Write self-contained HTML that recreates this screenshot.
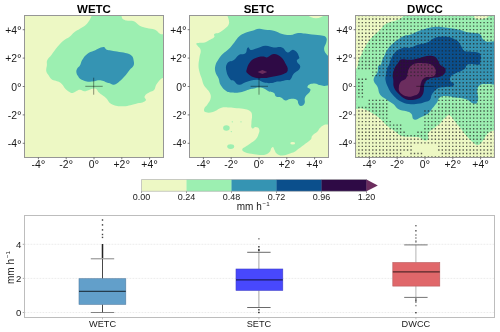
<!DOCTYPE html><html><head><meta charset="utf-8"><style>html,body{margin:0;padding:0;background:#fff;width:500px;height:332px;overflow:hidden;position:relative}</style></head><body><svg width="500" height="332" viewBox="0 0 500 332" style="position:absolute;left:0;top:0;display:block;will-change:transform">
<rect width="500" height="332" fill="#fff"/>
<defs><clipPath id="c0"><rect x="24.5" y="15.5" width="139.0" height="142.0"/></clipPath><clipPath id="c1"><rect x="189.5" y="15.5" width="139.0" height="142.0"/></clipPath><clipPath id="c2"><rect x="355.5" y="15.5" width="139.0" height="142.0"/></clipPath></defs>
<g clip-path="url(#c0)">
<rect x="24.5" y="15.5" width="139.0" height="142.0" fill="#edf8c4"/>
<path d="M92.00,15.00 C90.30,18.69 89.89,20.35 87.20,23.40 C84.69,26.24 83.04,26.58 79.90,28.70 C77.74,30.15 76.64,30.29 74.60,31.90 C72.16,33.84 71.74,35.16 69.30,37.10 C67.26,38.71 66.01,38.65 64.00,40.30 C61.10,42.67 60.14,43.76 57.70,46.60 C54.83,49.95 54.08,51.50 51.40,55.00 C49.67,57.25 48.37,57.71 47.20,60.30 C46.39,62.10 47.06,63.03 46.90,65.00 C46.68,67.65 45.91,68.67 46.30,71.30 C46.57,73.07 47.40,73.52 48.40,75.00 C49.64,76.84 49.85,77.83 51.60,79.20 C53.09,80.36 54.04,80.13 55.80,80.80 C57.56,81.47 58.39,81.42 60.00,82.40 C61.34,83.22 61.69,83.80 62.70,85.00 C63.92,86.45 63.97,87.35 65.30,88.70 C66.86,90.28 67.58,90.79 69.50,91.90 C70.73,92.61 71.29,93.21 72.70,93.00 C74.67,92.71 75.08,91.60 76.90,90.80 C78.15,90.25 78.63,89.73 80.00,89.80 C81.94,89.90 82.46,91.18 84.40,91.20 C86.41,91.22 87.08,90.47 89.00,89.90 C90.90,89.34 91.54,88.75 93.50,88.50 C94.64,88.36 95.28,88.30 96.20,89.00 C97.71,90.14 97.56,91.26 98.90,92.60 C100.24,93.94 101.00,94.16 102.50,95.30 C103.98,96.42 104.69,96.69 106.00,98.00 C108.23,100.23 108.12,102.20 110.90,103.70 C114.90,105.86 116.86,106.30 121.40,106.30 C127.71,106.30 130.06,105.14 136.20,103.70 C140.29,102.74 142.53,103.35 145.70,100.60 C147.08,99.40 143.79,98.03 144.60,96.40 C145.87,93.83 147.52,93.70 149.90,92.10 C151.54,91.00 152.81,91.49 154.10,90.00 C155.64,88.22 154.93,86.79 156.20,84.80 C158.08,81.86 158.86,80.69 161.50,78.40 C163.08,77.03 165.78,78.37 166.00,76.30 C167.79,59.05 168.28,52.20 166.00,35.00 C165.69,32.63 162.56,35.03 160.40,34.00 C157.84,32.78 157.71,30.92 155.10,29.80 C151.79,28.38 150.17,29.05 146.70,28.10 C143.52,27.23 142.20,27.05 139.30,25.50 C136.80,24.16 136.66,22.29 134.00,21.30 C129.81,19.74 127.39,21.80 123.50,19.60 C120.64,17.98 122.52,13.67 119.30,13.00 C108.08,10.65 103.44,12.16 92.00,13.00 C91.16,13.06 92.35,14.24 92.00,15.00Z" fill="#9cefb1"/>
<path d="M94.00,50.80 C91.10,52.05 89.67,52.04 87.20,54.00 C84.51,56.13 83.83,57.40 82.00,60.30 C80.72,62.33 81.10,63.53 79.90,65.60 C79.01,67.15 77.92,67.21 77.10,68.80 C76.40,70.17 76.21,70.87 76.40,72.40 C76.61,74.04 77.18,74.56 78.00,76.00 C78.70,77.23 78.90,77.82 80.00,78.70 C81.28,79.72 81.97,79.83 83.50,80.40 C85.34,81.09 86.04,81.52 88.00,81.70 C90.31,81.91 91.21,81.63 93.50,81.30 C95.00,81.08 95.48,80.48 97.00,80.40 C99.31,80.27 100.23,80.35 102.50,80.80 C104.05,81.11 104.51,81.67 106.00,82.20 C107.24,82.64 107.75,82.69 109.00,83.10 C111.11,83.79 111.81,85.12 114.00,84.80 C116.57,84.43 117.29,83.25 119.30,81.60 C122.20,79.23 123.11,78.10 125.60,75.30 C127.53,73.13 127.95,72.04 129.80,69.80 C131.31,67.96 132.72,67.81 133.60,65.60 C134.43,63.53 133.97,62.50 133.60,60.30 C133.29,58.44 133.23,57.53 132.00,56.10 C130.61,54.48 129.72,54.07 127.70,53.40 C124.30,52.27 122.83,52.53 119.30,51.90 C115.77,51.27 114.44,50.99 110.90,50.40 C109.14,50.11 108.32,50.54 106.70,49.80 C105.08,49.05 105.28,46.86 103.50,47.00 C99.22,47.34 97.95,49.10 94.00,50.80Z" fill="#3594b3"/>
<line x1="85.3" y1="86.3" x2="102.7" y2="86.3" stroke="#000" stroke-opacity="0.5" stroke-width="0.85"/>
<line x1="93.7" y1="77.7" x2="93.7" y2="94.7" stroke="#000" stroke-opacity="0.5" stroke-width="0.85"/>
</g>
<rect x="24.5" y="15.5" width="139.0" height="142.0" fill="none" stroke="#969696" stroke-width="1"/>
<g clip-path="url(#c1)">
<rect x="189.5" y="15.5" width="139.0" height="142.0" fill="#edf8c4"/>
<path d="M229.00,13.00 C224.67,13.58 230.13,19.18 229.00,23.40 C228.27,26.14 226.91,26.79 224.80,28.70 C222.44,30.83 221.34,31.47 218.50,32.90 C216.87,33.72 215.59,32.71 214.30,34.00 C213.38,34.92 215.14,36.10 214.30,37.10 C212.63,39.09 211.27,39.03 209.00,40.30 C207.28,41.26 206.71,41.91 204.80,42.40 C201.35,43.28 199.67,42.09 196.40,43.50 C195.50,43.89 196.86,44.79 197.40,45.60 C198.63,47.45 200.20,47.62 200.60,49.80 C201.16,52.89 199.91,54.09 199.50,57.20 C199.03,60.72 198.50,62.05 198.50,65.60 C198.50,68.32 198.85,69.36 199.50,72.00 C200.16,74.71 200.72,75.65 201.60,78.30 C202.53,81.11 202.54,82.32 203.80,85.00 C204.54,86.57 205.25,86.92 206.30,88.30 C207.68,90.11 208.66,90.53 209.60,92.60 C210.56,94.71 211.12,95.72 210.70,98.00 C210.14,101.01 208.98,101.88 207.40,104.50 C206.24,106.43 204.80,106.63 204.20,108.80 C203.81,110.21 203.94,111.58 205.30,112.10 C208.24,113.23 209.76,112.91 212.80,112.10 C216.74,111.05 217.57,108.88 221.50,107.80 C224.58,106.95 225.91,107.50 229.10,107.60 C232.30,107.71 233.51,107.99 236.70,108.30 C240.36,108.66 241.82,108.37 245.40,109.20 C247.69,109.73 248.73,109.95 250.50,111.50 C251.70,112.56 251.88,113.41 252.00,115.00 C252.27,118.53 251.37,119.86 251.40,123.40 C251.42,125.48 250.50,126.97 252.10,128.30 C253.32,129.31 254.02,126.74 255.60,126.90 C257.31,127.07 258.51,127.39 259.10,129.00 C259.91,131.23 259.15,132.35 258.40,134.60 C257.65,136.85 257.21,137.76 255.60,139.50 C253.61,141.66 252.39,141.99 250.00,143.70 C248.27,144.93 247.51,145.25 245.80,146.50 C244.28,147.61 242.76,147.47 242.30,149.30 C241.94,150.73 243.04,151.54 244.40,152.10 C248.29,153.70 250.03,153.60 254.20,154.20 C258.29,154.78 259.91,155.46 264.00,154.90 C266.61,154.54 267.66,153.88 269.60,152.10 C271.35,150.50 270.22,148.13 272.40,147.20 C273.75,146.62 273.68,148.78 274.50,150.00 C275.45,151.43 275.21,152.49 276.60,153.50 C278.63,154.98 279.69,155.71 282.20,155.60 C286.48,155.41 287.96,154.21 292.00,152.80 C293.86,152.15 294.51,151.71 296.20,150.70 C297.46,149.94 297.83,149.49 299.00,148.60 C301.78,146.47 302.84,145.66 305.60,143.50 C307.88,141.71 309.12,141.40 311.00,139.20 C311.95,138.09 311.15,137.01 312.10,135.90 C313.98,133.70 315.45,133.65 317.50,131.60 C318.68,130.42 318.52,129.48 319.70,128.30 C321.29,126.71 321.97,126.07 324.00,125.10 C326.78,123.77 330.81,125.98 331.00,122.90 C333.88,76.83 333.52,59.09 331.00,13.00 C330.86,10.48 327.39,12.20 325.00,13.00 C324.20,13.27 325.73,14.58 325.00,15.00 C321.53,17.01 320.01,18.20 316.00,18.20 C311.99,18.20 310.47,17.01 307.00,15.00 C306.27,14.58 307.84,13.02 307.00,13.00 C274.25,12.16 261.47,8.67 229.00,13.00Z" fill="#9cefb1"/>
<path d="M259.00,28.70 C256.06,28.93 255.13,29.96 252.30,30.80 C249.20,31.72 247.88,31.66 244.90,32.90 C242.50,33.90 241.54,34.36 239.60,36.10 C237.03,38.41 236.53,39.75 234.30,42.40 C232.07,45.05 231.45,46.25 229.00,48.70 C226.55,51.15 225.13,51.54 222.70,54.00 C220.70,56.02 220.01,56.90 218.50,59.30 C216.93,61.80 216.10,62.74 215.40,65.60 C214.76,68.21 214.76,69.39 215.40,72.00 C216.10,74.86 217.40,75.56 218.50,78.30 C219.60,81.04 219.02,82.51 220.60,85.00 C222.64,88.21 223.72,89.41 226.90,91.50 C228.72,92.70 229.83,92.30 232.00,92.50 C234.84,92.76 235.96,92.93 238.80,92.60 C241.47,92.29 242.43,91.78 245.00,91.00 C247.01,90.39 247.67,89.85 249.70,89.30 C251.39,88.84 252.08,88.91 253.80,88.60 C255.99,88.20 256.78,87.62 259.00,87.60 C261.13,87.58 262.01,87.72 264.00,88.50 C266.28,89.39 266.77,90.50 269.00,91.50 C271.00,92.40 272.22,91.73 274.00,93.00 C275.38,93.98 274.58,95.58 276.00,96.50 C277.80,97.66 279.03,96.67 281.00,97.50 C283.09,98.38 283.26,100.13 285.50,100.50 C287.47,100.83 288.01,99.09 290.00,99.00 C292.97,98.87 294.44,98.49 297.00,100.00 C298.55,100.91 297.50,102.51 298.50,104.00 C299.25,105.12 299.66,106.11 301.00,106.00 C302.80,105.85 303.73,105.13 304.50,103.50 C305.58,101.21 303.97,99.81 305.00,97.50 C306.59,93.93 309.63,93.81 310.50,90.00 C310.93,88.11 306.51,88.16 307.50,86.50 C309.09,83.83 311.22,83.96 314.30,83.60 C316.60,83.33 317.33,84.66 319.60,85.10 C322.09,85.58 323.11,86.30 325.60,85.80 C328.14,85.29 330.50,85.35 331.00,82.80 C332.99,72.62 332.45,68.37 331.00,58.10 C330.71,56.05 328.36,56.74 327.10,55.10 C325.39,52.86 324.28,51.91 324.10,49.10 C323.91,46.10 325.73,45.25 326.30,42.30 C326.66,40.44 327.16,39.49 326.30,37.80 C325.57,36.35 324.58,36.16 323.00,35.80 C318.47,34.75 316.61,35.09 312.00,34.50 C309.05,34.12 307.95,33.82 305.00,33.50 C302.07,33.19 300.93,32.69 298.00,33.00 C294.80,33.33 293.81,34.80 290.60,35.00 C287.05,35.22 285.65,34.86 282.20,34.00 C278.54,33.08 277.46,31.71 273.80,30.80 C270.31,29.93 268.86,30.30 265.30,29.80 C262.64,29.42 261.68,28.49 259.00,28.70Z" fill="#3594b3"/>
<path d="M248.00,47.50 C249.21,46.70 249.05,49.77 250.50,49.90 C253.34,50.15 254.35,49.06 257.10,48.30 C260.61,47.33 261.76,45.98 265.40,45.80 C268.95,45.63 270.16,47.14 273.70,47.50 C277.17,47.86 278.71,46.35 282.00,47.50 C284.98,48.54 284.61,51.76 287.70,52.40 C290.30,52.94 291.06,48.85 293.50,49.90 C297.16,51.48 298.14,53.59 299.30,57.40 C299.81,59.06 296.64,58.97 296.80,60.70 C297.08,63.81 300.95,64.27 300.20,67.30 C299.24,71.16 296.00,70.90 293.50,74.00 C291.76,76.15 292.23,77.82 290.20,79.70 C289.21,80.62 288.33,79.77 287.00,80.00 C284.17,80.49 283.14,80.97 280.30,81.40 C278.93,81.61 278.36,81.24 277.00,81.50 C274.85,81.92 274.19,82.83 272.00,83.00 C268.64,83.26 267.29,83.23 264.00,82.50 C260.95,81.82 260.23,79.75 257.10,79.70 C252.12,79.62 250.31,80.88 245.50,82.20 C242.64,82.99 241.83,85.13 238.90,84.70 C235.97,84.27 235.84,81.93 233.30,80.40 C232.30,79.80 231.31,80.63 230.60,79.70 C228.26,76.64 227.26,75.28 226.50,71.50 C225.81,68.07 225.42,66.15 227.30,63.20 C228.97,60.59 231.38,61.70 233.90,59.90 C236.32,58.17 236.33,56.39 238.90,54.90 C241.38,53.47 243.28,55.01 245.50,53.20 C247.53,51.55 245.82,48.94 248.00,47.50Z" fill="#0b4f8c"/>
<path d="M246.40,70.60 C247.55,66.57 247.86,64.76 250.50,61.50 C252.55,58.96 254.04,58.54 257.10,57.40 C259.72,56.43 260.91,56.60 263.70,56.60 C265.13,56.60 265.62,57.75 267.00,57.40 C270.04,56.64 270.57,54.29 273.70,54.10 C276.66,53.92 277.97,54.77 280.30,56.60 C283.04,58.75 283.67,60.13 285.30,63.20 C286.83,66.09 288.21,67.37 287.70,70.60 C287.35,72.78 285.64,73.05 283.60,73.90 C279.64,75.54 277.90,75.51 273.70,76.40 C269.53,77.28 267.96,77.91 263.70,78.10 C259.53,78.29 257.79,78.51 253.80,77.30 C250.66,76.35 249.64,75.31 247.20,73.10 C246.38,72.36 246.10,71.66 246.40,70.60Z" fill="#2e0a45"/>
<polygon points="257.6,71.9 262.4,69.9 267.2,71.9 262.4,73.9" fill="#6b2d5e"/>
<circle cx="232.3" cy="121.8" r="0.65" fill="#9cefb1"/>
<circle cx="241" cy="121.8" r="0.65" fill="#9cefb1"/>
<circle cx="231.3" cy="131.6" r="0.65" fill="#9cefb1"/>
<ellipse cx="226.4" cy="128.0" rx="3.3" ry="2.8" fill="#9cefb1"/>
<ellipse cx="230.7" cy="146.6" rx="3.5" ry="2.4" fill="#9cefb1"/>
<ellipse cx="292.7" cy="143.3" rx="2.4" ry="1.2" fill="#edf8c4"/>
<line x1="250.60000000000002" y1="86.3" x2="268.0" y2="86.3" stroke="#000" stroke-opacity="0.5" stroke-width="0.85"/>
<line x1="259.0" y1="77.7" x2="259.0" y2="94.7" stroke="#000" stroke-opacity="0.5" stroke-width="0.85"/>
</g>
<rect x="189.5" y="15.5" width="139.0" height="142.0" fill="none" stroke="#969696" stroke-width="1"/>
<g clip-path="url(#c2)">
<rect x="355.5" y="15.5" width="139.0" height="142.0" fill="#edf8c4"/>
<path d="M404.00,13.00 C403.16,13.02 404.51,14.33 404.00,15.00 C402.28,17.24 401.50,18.18 399.00,19.50 C395.94,21.11 394.35,20.62 391.10,21.80 C388.20,22.85 386.92,23.03 384.40,24.80 C382.73,25.97 382.77,27.09 381.40,28.60 C379.90,30.25 379.25,30.81 377.60,32.30 C375.76,33.96 374.85,34.35 373.10,36.10 C371.35,37.85 370.79,38.63 369.30,40.60 C367.93,42.41 367.49,43.16 366.30,45.10 C364.96,47.28 364.44,48.11 363.30,50.40 C362.21,52.57 362.09,53.53 361.00,55.70 C360.48,56.73 359.90,56.92 359.50,58.00 C358.79,59.90 358.97,60.75 358.40,62.70 C357.62,65.38 357.82,66.66 356.30,69.00 C355.42,70.36 353.14,69.39 353.00,71.00 C351.69,86.27 349.42,92.59 353.00,107.50 C353.89,111.20 358.29,107.68 362.00,108.50 C364.64,109.08 365.59,109.58 368.00,110.80 C371.58,112.61 372.88,113.44 376.20,115.70 C378.57,117.31 379.40,118.05 381.50,120.00 C383.61,121.96 384.00,123.14 386.20,125.00 C389.57,127.86 391.10,128.64 394.70,131.20 C397.61,133.26 398.34,134.81 401.70,136.00 C405.20,137.24 406.80,136.49 410.50,136.80 C414.40,137.12 416.01,136.51 419.80,137.50 C422.10,138.10 422.25,140.16 424.60,140.50 C426.27,140.74 427.44,140.21 428.20,138.70 C429.21,136.67 427.00,135.22 428.20,133.30 C430.30,129.94 432.34,129.72 435.40,127.20 C437.30,125.64 438.21,125.28 440.00,123.60 C441.13,122.53 441.25,121.84 442.30,120.70 C444.19,118.65 444.76,117.67 447.00,116.00 C447.95,115.29 448.70,114.57 449.70,115.20 C452.26,116.83 452.46,118.36 454.40,120.70 C457.08,123.95 458.07,125.21 460.70,128.50 C463.32,131.77 464.12,133.17 466.90,136.30 C469.38,139.10 470.27,140.28 473.20,142.60 C474.94,143.97 475.71,145.37 477.90,145.00 C480.46,144.57 480.92,142.97 482.60,141.00 C484.90,138.31 484.89,136.59 487.30,134.00 C488.91,132.27 489.81,131.78 492.00,130.90 C493.97,130.11 496.91,132.22 497.00,130.10 C499.08,80.96 499.85,62.10 497.00,13.00 C496.83,10.15 492.94,12.19 490.20,13.00 C489.39,13.24 490.81,14.43 490.20,15.00 C487.97,17.09 486.95,18.01 484.00,18.80 C480.75,19.67 479.16,19.95 476.00,18.80 C474.23,18.15 474.32,16.74 473.60,15.00 C473.28,14.22 474.44,13.02 473.60,13.00 C444.38,12.16 433.22,12.16 404.00,13.00Z" fill="#9cefb1"/>
<path d="M380.60,65.00 C381.76,63.23 381.30,62.16 382.10,60.20 C382.90,58.24 383.45,57.60 384.40,55.70 C385.68,53.15 385.78,51.95 387.40,49.60 C389.30,46.83 390.24,45.89 392.70,43.60 C395.01,41.46 396.07,40.83 398.70,39.10 C401.25,37.42 402.16,36.60 405.00,35.50 C406.57,34.89 407.39,35.62 409.00,35.10 C412.94,33.84 414.22,32.76 418.10,31.30 C421.83,29.90 423.23,29.27 427.10,28.30 C430.82,27.37 432.27,26.97 436.10,26.80 C439.93,26.63 441.39,27.08 445.20,27.50 C448.28,27.84 449.45,28.07 452.50,28.60 C455.71,29.16 456.94,29.33 460.10,30.10 C463.29,30.88 464.38,31.66 467.60,32.30 C470.71,32.92 471.98,32.54 475.10,33.10 C477.38,33.51 478.58,33.17 480.40,34.60 C482.07,35.92 481.31,37.50 482.70,39.10 C483.88,40.46 484.59,40.87 486.30,41.40 C490.68,42.75 495.85,39.07 497.00,43.50 C501.13,59.39 500.85,66.64 497.00,82.60 C496.02,86.65 491.33,83.55 487.20,84.10 C484.35,84.48 482.85,83.30 480.40,84.80 C478.22,86.14 477.80,87.57 477.40,90.10 C476.80,93.89 478.74,95.42 478.10,99.20 C477.72,101.44 477.37,103.70 475.10,103.70 C470.87,103.70 470.14,100.46 466.10,99.20 C461.80,97.86 459.95,98.31 455.50,97.60 C451.29,96.93 449.76,95.87 445.50,95.90 C442.87,95.92 441.58,96.09 439.50,97.70 C437.70,99.09 438.26,100.61 437.00,102.50 C435.19,105.21 434.23,106.05 432.20,108.60 C430.53,110.71 430.35,111.98 428.20,113.60 C425.28,115.81 423.78,116.09 420.40,117.50 C417.84,118.57 416.66,120.57 414.10,119.50 C411.60,118.46 413.14,115.68 411.30,113.70 C409.77,112.05 408.62,112.07 406.50,111.30 C403.05,110.05 401.32,110.66 398.10,108.90 C395.60,107.53 395.50,105.92 393.30,104.10 C390.90,102.12 389.72,101.72 387.20,99.90 C384.14,97.69 382.27,97.52 380.00,94.50 C378.04,91.89 378.97,90.07 377.60,87.10 C376.35,84.39 374.62,83.97 373.80,81.10 C373.27,79.25 373.86,78.37 374.60,76.60 C375.49,74.47 376.84,74.18 377.60,72.00 C378.44,69.60 377.30,68.33 378.30,66.00 C378.71,65.03 380.02,65.88 380.60,65.00Z" fill="#3594b3"/>
<path d="M405.00,47.40 C402.23,47.86 401.15,48.24 398.70,49.60 C396.54,50.80 395.79,51.50 394.20,53.40 C392.55,55.38 392.17,56.35 391.10,58.70 C389.94,61.25 389.99,62.42 388.90,65.00 C388.43,66.13 387.75,66.33 387.40,67.50 C386.47,70.62 386.39,71.88 385.90,75.10 C385.59,77.14 385.15,77.97 385.50,80.00 C386.05,83.15 386.61,84.32 388.00,87.20 C389.57,90.44 390.10,91.82 392.50,94.50 C395.54,97.90 396.86,99.20 400.80,101.50 C403.88,103.30 405.35,103.73 408.90,104.10 C413.46,104.58 415.26,104.14 419.80,103.50 C422.40,103.13 423.32,102.57 425.80,101.70 C427.52,101.10 428.62,101.40 429.80,100.00 C431.52,97.95 430.65,96.28 432.20,94.10 C434.29,91.18 435.14,89.81 438.30,88.10 C441.00,86.64 442.49,87.48 445.50,86.90 C449.04,86.22 451.67,87.94 453.90,85.10 C455.36,83.25 451.08,83.02 450.30,80.80 C449.71,79.12 449.91,78.08 450.90,76.60 C452.10,74.80 453.20,74.65 455.10,73.60 C458.98,71.45 461.02,71.61 464.60,69.00 C466.44,67.66 465.42,65.15 467.60,64.50 C472.43,63.05 474.66,65.51 479.60,64.50 C480.71,64.27 480.13,63.02 480.30,61.90 C480.68,59.40 481.23,58.41 480.90,55.90 C480.71,54.44 480.46,53.46 479.10,52.90 C475.80,51.54 474.24,52.14 470.70,51.70 C468.15,51.38 466.96,52.13 464.60,51.10 C463.09,50.44 463.11,49.37 462.20,48.00 C460.58,45.55 460.51,44.23 458.60,42.00 C457.42,40.62 456.59,40.47 455.00,39.60 C452.97,38.49 452.25,37.83 450.00,37.30 C446.80,36.55 445.48,36.43 442.20,36.60 C438.95,36.77 437.62,36.90 434.60,38.10 C431.19,39.46 430.50,41.22 427.10,42.60 C423.49,44.06 421.83,43.71 418.10,44.80 C414.23,45.93 412.96,47.11 409.00,47.90 C407.34,48.23 406.67,47.12 405.00,47.40Z" fill="#0b4f8c"/>
<path d="M401.00,59.50 C404.23,58.56 405.64,60.02 409.00,59.80 C412.86,59.55 414.31,59.19 418.10,58.40 C421.97,57.59 423.27,56.43 427.20,56.00 C430.26,55.66 431.68,55.36 434.50,56.60 C436.63,57.54 436.76,58.90 438.10,60.80 C439.29,62.49 439.11,63.57 440.50,65.10 C441.95,66.71 443.50,66.30 444.70,68.10 C445.69,69.58 446.10,70.71 445.30,72.30 C444.10,74.70 442.93,75.37 440.50,76.50 C437.79,77.76 436.43,77.18 433.50,77.80 C431.85,78.15 431.13,78.08 429.60,78.80 C427.80,79.65 426.93,79.93 425.70,81.50 C424.51,83.02 424.49,83.91 424.10,85.80 C423.64,88.07 424.21,89.04 423.70,91.30 C423.23,93.38 423.18,94.37 421.80,96.00 C420.27,97.81 419.34,98.34 417.10,99.10 C414.25,100.06 413.01,100.03 410.00,100.00 C407.98,99.98 407.06,99.99 405.30,99.00 C401.94,97.11 400.78,96.07 398.10,93.30 C395.94,91.06 394.96,90.13 393.90,87.20 C392.87,84.35 393.60,83.02 393.30,80.00 C393.10,77.94 392.44,77.16 392.70,75.10 C393.12,71.80 393.57,70.54 394.90,67.50 C395.82,65.40 396.61,64.83 398.00,63.00 C399.17,61.46 399.14,60.04 401.00,59.50Z" fill="#2e0a45"/>
<path d="M409.30,68.00 C410.38,66.43 410.92,65.85 412.50,64.80 C414.01,63.80 414.71,63.43 416.50,63.20 C419.62,62.79 420.86,63.05 424.00,63.30 C426.80,63.52 428.00,63.26 430.60,64.30 C432.57,65.09 433.26,65.79 434.50,67.50 C435.57,68.97 435.90,69.78 435.90,71.60 C435.90,73.34 435.67,74.21 434.50,75.50 C433.43,76.68 432.57,76.69 431.00,77.00 C428.94,77.41 428.05,76.72 426.00,77.20 C424.72,77.50 424.25,77.89 423.30,78.80 C422.31,79.74 422.02,80.24 421.50,81.50 C420.79,83.22 420.77,83.97 420.40,85.80 C419.97,87.97 420.31,88.91 419.60,91.00 C419.07,92.55 418.80,93.30 417.50,94.30 C415.93,95.51 414.99,95.40 413.10,96.00 C411.83,96.41 411.33,96.70 410.00,96.70 C408.00,96.70 407.18,96.67 405.30,96.00 C403.33,95.30 402.59,94.86 401.00,93.50 C399.88,92.54 399.45,92.01 399.00,90.60 C398.53,89.16 398.81,88.51 398.90,87.00 C398.97,85.81 398.91,85.29 399.40,84.20 C400.07,82.71 400.36,82.06 401.60,81.00 C402.88,79.90 403.96,80.35 405.20,79.20 C406.33,78.15 406.49,77.46 407.00,76.00 C407.64,74.18 407.37,73.35 407.90,71.50 C408.34,69.98 408.40,69.31 409.30,68.00Z" fill="#6b2d5e"/>
<line x1="416.3" y1="86.3" x2="433.7" y2="86.3" stroke="#000" stroke-opacity="0.5" stroke-width="0.85"/>
<path d="M354.70 14.80h1.4v1.4h-1.4zM358.18 14.80h1.4v1.4h-1.4zM361.65 14.80h1.4v1.4h-1.4zM365.13 14.80h1.4v1.4h-1.4zM368.61 14.80h1.4v1.4h-1.4zM372.09 14.80h1.4v1.4h-1.4zM375.56 14.80h1.4v1.4h-1.4zM379.04 14.80h1.4v1.4h-1.4zM382.52 14.80h1.4v1.4h-1.4zM386.00 14.80h1.4v1.4h-1.4zM389.47 14.80h1.4v1.4h-1.4zM392.95 14.80h1.4v1.4h-1.4zM396.43 14.80h1.4v1.4h-1.4zM399.91 14.80h1.4v1.4h-1.4zM403.38 14.80h1.4v1.4h-1.4zM406.86 14.80h1.4v1.4h-1.4zM410.34 14.80h1.4v1.4h-1.4zM413.82 14.80h1.4v1.4h-1.4zM417.30 14.80h1.4v1.4h-1.4zM420.77 14.80h1.4v1.4h-1.4zM424.25 14.80h1.4v1.4h-1.4zM427.73 14.80h1.4v1.4h-1.4zM431.20 14.80h1.4v1.4h-1.4zM434.68 14.80h1.4v1.4h-1.4zM438.16 14.80h1.4v1.4h-1.4zM441.64 14.80h1.4v1.4h-1.4zM445.12 14.80h1.4v1.4h-1.4zM448.59 14.80h1.4v1.4h-1.4zM452.07 14.80h1.4v1.4h-1.4zM455.55 14.80h1.4v1.4h-1.4zM459.02 14.80h1.4v1.4h-1.4zM462.50 14.80h1.4v1.4h-1.4zM465.98 14.80h1.4v1.4h-1.4zM469.46 14.80h1.4v1.4h-1.4zM472.94 14.80h1.4v1.4h-1.4zM476.41 14.80h1.4v1.4h-1.4zM479.89 14.80h1.4v1.4h-1.4zM483.37 14.80h1.4v1.4h-1.4zM486.84 14.80h1.4v1.4h-1.4zM490.32 14.80h1.4v1.4h-1.4zM493.80 14.80h1.4v1.4h-1.4zM354.70 18.34h1.4v1.4h-1.4zM358.18 18.34h1.4v1.4h-1.4zM361.65 18.34h1.4v1.4h-1.4zM365.13 18.34h1.4v1.4h-1.4zM368.61 18.34h1.4v1.4h-1.4zM372.09 18.34h1.4v1.4h-1.4zM375.56 18.34h1.4v1.4h-1.4zM379.04 18.34h1.4v1.4h-1.4zM382.52 18.34h1.4v1.4h-1.4zM386.00 18.34h1.4v1.4h-1.4zM389.47 18.34h1.4v1.4h-1.4zM392.95 18.34h1.4v1.4h-1.4zM396.43 18.34h1.4v1.4h-1.4zM399.91 18.34h1.4v1.4h-1.4zM403.38 18.34h1.4v1.4h-1.4zM406.86 18.34h1.4v1.4h-1.4zM410.34 18.34h1.4v1.4h-1.4zM413.82 18.34h1.4v1.4h-1.4zM417.30 18.34h1.4v1.4h-1.4zM420.77 18.34h1.4v1.4h-1.4zM424.25 18.34h1.4v1.4h-1.4zM427.73 18.34h1.4v1.4h-1.4zM431.20 18.34h1.4v1.4h-1.4zM434.68 18.34h1.4v1.4h-1.4zM438.16 18.34h1.4v1.4h-1.4zM441.64 18.34h1.4v1.4h-1.4zM445.12 18.34h1.4v1.4h-1.4zM448.59 18.34h1.4v1.4h-1.4zM452.07 18.34h1.4v1.4h-1.4zM455.55 18.34h1.4v1.4h-1.4zM459.02 18.34h1.4v1.4h-1.4zM462.50 18.34h1.4v1.4h-1.4zM465.98 18.34h1.4v1.4h-1.4zM469.46 18.34h1.4v1.4h-1.4zM472.94 18.34h1.4v1.4h-1.4zM476.41 18.34h1.4v1.4h-1.4zM479.89 18.34h1.4v1.4h-1.4zM483.37 18.34h1.4v1.4h-1.4zM486.84 18.34h1.4v1.4h-1.4zM490.32 18.34h1.4v1.4h-1.4zM493.80 18.34h1.4v1.4h-1.4zM354.70 21.88h1.4v1.4h-1.4zM358.18 21.88h1.4v1.4h-1.4zM361.65 21.88h1.4v1.4h-1.4zM365.13 21.88h1.4v1.4h-1.4zM368.61 21.88h1.4v1.4h-1.4zM372.09 21.88h1.4v1.4h-1.4zM375.56 21.88h1.4v1.4h-1.4zM379.04 21.88h1.4v1.4h-1.4zM382.52 21.88h1.4v1.4h-1.4zM386.00 21.88h1.4v1.4h-1.4zM389.47 21.88h1.4v1.4h-1.4zM392.95 21.88h1.4v1.4h-1.4zM396.43 21.88h1.4v1.4h-1.4zM399.91 21.88h1.4v1.4h-1.4zM403.38 21.88h1.4v1.4h-1.4zM406.86 21.88h1.4v1.4h-1.4zM410.34 21.88h1.4v1.4h-1.4zM413.82 21.88h1.4v1.4h-1.4zM417.30 21.88h1.4v1.4h-1.4zM420.77 21.88h1.4v1.4h-1.4zM424.25 21.88h1.4v1.4h-1.4zM427.73 21.88h1.4v1.4h-1.4zM431.20 21.88h1.4v1.4h-1.4zM434.68 21.88h1.4v1.4h-1.4zM438.16 21.88h1.4v1.4h-1.4zM441.64 21.88h1.4v1.4h-1.4zM445.12 21.88h1.4v1.4h-1.4zM448.59 21.88h1.4v1.4h-1.4zM452.07 21.88h1.4v1.4h-1.4zM455.55 21.88h1.4v1.4h-1.4zM459.02 21.88h1.4v1.4h-1.4zM462.50 21.88h1.4v1.4h-1.4zM465.98 21.88h1.4v1.4h-1.4zM469.46 21.88h1.4v1.4h-1.4zM472.94 21.88h1.4v1.4h-1.4zM476.41 21.88h1.4v1.4h-1.4zM479.89 21.88h1.4v1.4h-1.4zM483.37 21.88h1.4v1.4h-1.4zM486.84 21.88h1.4v1.4h-1.4zM490.32 21.88h1.4v1.4h-1.4zM493.80 21.88h1.4v1.4h-1.4zM354.70 25.41h1.4v1.4h-1.4zM358.18 25.41h1.4v1.4h-1.4zM361.65 25.41h1.4v1.4h-1.4zM365.13 25.41h1.4v1.4h-1.4zM368.61 25.41h1.4v1.4h-1.4zM372.09 25.41h1.4v1.4h-1.4zM375.56 25.41h1.4v1.4h-1.4zM379.04 25.41h1.4v1.4h-1.4zM382.52 25.41h1.4v1.4h-1.4zM386.00 25.41h1.4v1.4h-1.4zM389.47 25.41h1.4v1.4h-1.4zM392.95 25.41h1.4v1.4h-1.4zM396.43 25.41h1.4v1.4h-1.4zM399.91 25.41h1.4v1.4h-1.4zM403.38 25.41h1.4v1.4h-1.4zM406.86 25.41h1.4v1.4h-1.4zM410.34 25.41h1.4v1.4h-1.4zM413.82 25.41h1.4v1.4h-1.4zM417.30 25.41h1.4v1.4h-1.4zM420.77 25.41h1.4v1.4h-1.4zM424.25 25.41h1.4v1.4h-1.4zM427.73 25.41h1.4v1.4h-1.4zM431.20 25.41h1.4v1.4h-1.4zM434.68 25.41h1.4v1.4h-1.4zM438.16 25.41h1.4v1.4h-1.4zM441.64 25.41h1.4v1.4h-1.4zM445.12 25.41h1.4v1.4h-1.4zM448.59 25.41h1.4v1.4h-1.4zM452.07 25.41h1.4v1.4h-1.4zM455.55 25.41h1.4v1.4h-1.4zM459.02 25.41h1.4v1.4h-1.4zM462.50 25.41h1.4v1.4h-1.4zM465.98 25.41h1.4v1.4h-1.4zM469.46 25.41h1.4v1.4h-1.4zM472.94 25.41h1.4v1.4h-1.4zM476.41 25.41h1.4v1.4h-1.4zM479.89 25.41h1.4v1.4h-1.4zM483.37 25.41h1.4v1.4h-1.4zM486.84 25.41h1.4v1.4h-1.4zM490.32 25.41h1.4v1.4h-1.4zM493.80 25.41h1.4v1.4h-1.4zM354.70 28.95h1.4v1.4h-1.4zM358.18 28.95h1.4v1.4h-1.4zM361.65 28.95h1.4v1.4h-1.4zM365.13 28.95h1.4v1.4h-1.4zM368.61 28.95h1.4v1.4h-1.4zM372.09 28.95h1.4v1.4h-1.4zM375.56 28.95h1.4v1.4h-1.4zM379.04 28.95h1.4v1.4h-1.4zM382.52 28.95h1.4v1.4h-1.4zM386.00 28.95h1.4v1.4h-1.4zM389.47 28.95h1.4v1.4h-1.4zM392.95 28.95h1.4v1.4h-1.4zM396.43 28.95h1.4v1.4h-1.4zM399.91 28.95h1.4v1.4h-1.4zM403.38 28.95h1.4v1.4h-1.4zM406.86 28.95h1.4v1.4h-1.4zM410.34 28.95h1.4v1.4h-1.4zM413.82 28.95h1.4v1.4h-1.4zM417.30 28.95h1.4v1.4h-1.4zM420.77 28.95h1.4v1.4h-1.4zM424.25 28.95h1.4v1.4h-1.4zM427.73 28.95h1.4v1.4h-1.4zM431.20 28.95h1.4v1.4h-1.4zM434.68 28.95h1.4v1.4h-1.4zM438.16 28.95h1.4v1.4h-1.4zM441.64 28.95h1.4v1.4h-1.4zM445.12 28.95h1.4v1.4h-1.4zM448.59 28.95h1.4v1.4h-1.4zM452.07 28.95h1.4v1.4h-1.4zM455.55 28.95h1.4v1.4h-1.4zM459.02 28.95h1.4v1.4h-1.4zM462.50 28.95h1.4v1.4h-1.4zM465.98 28.95h1.4v1.4h-1.4zM469.46 28.95h1.4v1.4h-1.4zM472.94 28.95h1.4v1.4h-1.4zM476.41 28.95h1.4v1.4h-1.4zM479.89 28.95h1.4v1.4h-1.4zM483.37 28.95h1.4v1.4h-1.4zM486.84 28.95h1.4v1.4h-1.4zM490.32 28.95h1.4v1.4h-1.4zM493.80 28.95h1.4v1.4h-1.4zM354.70 32.49h1.4v1.4h-1.4zM358.18 32.49h1.4v1.4h-1.4zM361.65 32.49h1.4v1.4h-1.4zM365.13 32.49h1.4v1.4h-1.4zM368.61 32.49h1.4v1.4h-1.4zM372.09 32.49h1.4v1.4h-1.4zM375.56 32.49h1.4v1.4h-1.4zM379.04 32.49h1.4v1.4h-1.4zM382.52 32.49h1.4v1.4h-1.4zM386.00 32.49h1.4v1.4h-1.4zM389.47 32.49h1.4v1.4h-1.4zM392.95 32.49h1.4v1.4h-1.4zM396.43 32.49h1.4v1.4h-1.4zM399.91 32.49h1.4v1.4h-1.4zM403.38 32.49h1.4v1.4h-1.4zM406.86 32.49h1.4v1.4h-1.4zM410.34 32.49h1.4v1.4h-1.4zM413.82 32.49h1.4v1.4h-1.4zM417.30 32.49h1.4v1.4h-1.4zM420.77 32.49h1.4v1.4h-1.4zM424.25 32.49h1.4v1.4h-1.4zM427.73 32.49h1.4v1.4h-1.4zM431.20 32.49h1.4v1.4h-1.4zM434.68 32.49h1.4v1.4h-1.4zM438.16 32.49h1.4v1.4h-1.4zM441.64 32.49h1.4v1.4h-1.4zM445.12 32.49h1.4v1.4h-1.4zM448.59 32.49h1.4v1.4h-1.4zM452.07 32.49h1.4v1.4h-1.4zM455.55 32.49h1.4v1.4h-1.4zM459.02 32.49h1.4v1.4h-1.4zM462.50 32.49h1.4v1.4h-1.4zM465.98 32.49h1.4v1.4h-1.4zM469.46 32.49h1.4v1.4h-1.4zM472.94 32.49h1.4v1.4h-1.4zM476.41 32.49h1.4v1.4h-1.4zM479.89 32.49h1.4v1.4h-1.4zM483.37 32.49h1.4v1.4h-1.4zM486.84 32.49h1.4v1.4h-1.4zM490.32 32.49h1.4v1.4h-1.4zM493.80 32.49h1.4v1.4h-1.4zM354.70 36.02h1.4v1.4h-1.4zM358.18 36.02h1.4v1.4h-1.4zM361.65 36.02h1.4v1.4h-1.4zM365.13 36.02h1.4v1.4h-1.4zM368.61 36.02h1.4v1.4h-1.4zM372.09 36.02h1.4v1.4h-1.4zM375.56 36.02h1.4v1.4h-1.4zM379.04 36.02h1.4v1.4h-1.4zM382.52 36.02h1.4v1.4h-1.4zM386.00 36.02h1.4v1.4h-1.4zM389.47 36.02h1.4v1.4h-1.4zM392.95 36.02h1.4v1.4h-1.4zM396.43 36.02h1.4v1.4h-1.4zM399.91 36.02h1.4v1.4h-1.4zM403.38 36.02h1.4v1.4h-1.4zM406.86 36.02h1.4v1.4h-1.4zM410.34 36.02h1.4v1.4h-1.4zM413.82 36.02h1.4v1.4h-1.4zM417.30 36.02h1.4v1.4h-1.4zM420.77 36.02h1.4v1.4h-1.4zM424.25 36.02h1.4v1.4h-1.4zM427.73 36.02h1.4v1.4h-1.4zM431.20 36.02h1.4v1.4h-1.4zM434.68 36.02h1.4v1.4h-1.4zM438.16 36.02h1.4v1.4h-1.4zM441.64 36.02h1.4v1.4h-1.4zM445.12 36.02h1.4v1.4h-1.4zM448.59 36.02h1.4v1.4h-1.4zM452.07 36.02h1.4v1.4h-1.4zM455.55 36.02h1.4v1.4h-1.4zM459.02 36.02h1.4v1.4h-1.4zM462.50 36.02h1.4v1.4h-1.4zM465.98 36.02h1.4v1.4h-1.4zM469.46 36.02h1.4v1.4h-1.4zM472.94 36.02h1.4v1.4h-1.4zM476.41 36.02h1.4v1.4h-1.4zM479.89 36.02h1.4v1.4h-1.4zM483.37 36.02h1.4v1.4h-1.4zM486.84 36.02h1.4v1.4h-1.4zM490.32 36.02h1.4v1.4h-1.4zM493.80 36.02h1.4v1.4h-1.4zM354.70 39.56h1.4v1.4h-1.4zM358.18 39.56h1.4v1.4h-1.4zM361.65 39.56h1.4v1.4h-1.4zM365.13 39.56h1.4v1.4h-1.4zM368.61 39.56h1.4v1.4h-1.4zM372.09 39.56h1.4v1.4h-1.4zM375.56 39.56h1.4v1.4h-1.4zM379.04 39.56h1.4v1.4h-1.4zM382.52 39.56h1.4v1.4h-1.4zM386.00 39.56h1.4v1.4h-1.4zM389.47 39.56h1.4v1.4h-1.4zM392.95 39.56h1.4v1.4h-1.4zM396.43 39.56h1.4v1.4h-1.4zM399.91 39.56h1.4v1.4h-1.4zM403.38 39.56h1.4v1.4h-1.4zM406.86 39.56h1.4v1.4h-1.4zM410.34 39.56h1.4v1.4h-1.4zM413.82 39.56h1.4v1.4h-1.4zM417.30 39.56h1.4v1.4h-1.4zM420.77 39.56h1.4v1.4h-1.4zM424.25 39.56h1.4v1.4h-1.4zM427.73 39.56h1.4v1.4h-1.4zM431.20 39.56h1.4v1.4h-1.4zM434.68 39.56h1.4v1.4h-1.4zM438.16 39.56h1.4v1.4h-1.4zM441.64 39.56h1.4v1.4h-1.4zM445.12 39.56h1.4v1.4h-1.4zM448.59 39.56h1.4v1.4h-1.4zM452.07 39.56h1.4v1.4h-1.4zM455.55 39.56h1.4v1.4h-1.4zM459.02 39.56h1.4v1.4h-1.4zM462.50 39.56h1.4v1.4h-1.4zM465.98 39.56h1.4v1.4h-1.4zM469.46 39.56h1.4v1.4h-1.4zM472.94 39.56h1.4v1.4h-1.4zM476.41 39.56h1.4v1.4h-1.4zM479.89 39.56h1.4v1.4h-1.4zM483.37 39.56h1.4v1.4h-1.4zM486.84 39.56h1.4v1.4h-1.4zM490.32 39.56h1.4v1.4h-1.4zM493.80 39.56h1.4v1.4h-1.4zM354.70 43.10h1.4v1.4h-1.4zM358.18 43.10h1.4v1.4h-1.4zM361.65 43.10h1.4v1.4h-1.4zM365.13 43.10h1.4v1.4h-1.4zM368.61 43.10h1.4v1.4h-1.4zM372.09 43.10h1.4v1.4h-1.4zM375.56 43.10h1.4v1.4h-1.4zM379.04 43.10h1.4v1.4h-1.4zM382.52 43.10h1.4v1.4h-1.4zM386.00 43.10h1.4v1.4h-1.4zM389.47 43.10h1.4v1.4h-1.4zM392.95 43.10h1.4v1.4h-1.4zM396.43 43.10h1.4v1.4h-1.4zM399.91 43.10h1.4v1.4h-1.4zM403.38 43.10h1.4v1.4h-1.4zM406.86 43.10h1.4v1.4h-1.4zM410.34 43.10h1.4v1.4h-1.4zM413.82 43.10h1.4v1.4h-1.4zM417.30 43.10h1.4v1.4h-1.4zM420.77 43.10h1.4v1.4h-1.4zM424.25 43.10h1.4v1.4h-1.4zM427.73 43.10h1.4v1.4h-1.4zM431.20 43.10h1.4v1.4h-1.4zM434.68 43.10h1.4v1.4h-1.4zM438.16 43.10h1.4v1.4h-1.4zM441.64 43.10h1.4v1.4h-1.4zM445.12 43.10h1.4v1.4h-1.4zM448.59 43.10h1.4v1.4h-1.4zM452.07 43.10h1.4v1.4h-1.4zM455.55 43.10h1.4v1.4h-1.4zM459.02 43.10h1.4v1.4h-1.4zM462.50 43.10h1.4v1.4h-1.4zM465.98 43.10h1.4v1.4h-1.4zM469.46 43.10h1.4v1.4h-1.4zM472.94 43.10h1.4v1.4h-1.4zM476.41 43.10h1.4v1.4h-1.4zM479.89 43.10h1.4v1.4h-1.4zM483.37 43.10h1.4v1.4h-1.4zM486.84 43.10h1.4v1.4h-1.4zM490.32 43.10h1.4v1.4h-1.4zM493.80 43.10h1.4v1.4h-1.4zM354.70 46.64h1.4v1.4h-1.4zM358.18 46.64h1.4v1.4h-1.4zM361.65 46.64h1.4v1.4h-1.4zM365.13 46.64h1.4v1.4h-1.4zM368.61 46.64h1.4v1.4h-1.4zM372.09 46.64h1.4v1.4h-1.4zM375.56 46.64h1.4v1.4h-1.4zM379.04 46.64h1.4v1.4h-1.4zM382.52 46.64h1.4v1.4h-1.4zM386.00 46.64h1.4v1.4h-1.4zM389.47 46.64h1.4v1.4h-1.4zM392.95 46.64h1.4v1.4h-1.4zM396.43 46.64h1.4v1.4h-1.4zM399.91 46.64h1.4v1.4h-1.4zM403.38 46.64h1.4v1.4h-1.4zM406.86 46.64h1.4v1.4h-1.4zM410.34 46.64h1.4v1.4h-1.4zM413.82 46.64h1.4v1.4h-1.4zM417.30 46.64h1.4v1.4h-1.4zM420.77 46.64h1.4v1.4h-1.4zM424.25 46.64h1.4v1.4h-1.4zM427.73 46.64h1.4v1.4h-1.4zM431.20 46.64h1.4v1.4h-1.4zM434.68 46.64h1.4v1.4h-1.4zM438.16 46.64h1.4v1.4h-1.4zM441.64 46.64h1.4v1.4h-1.4zM445.12 46.64h1.4v1.4h-1.4zM448.59 46.64h1.4v1.4h-1.4zM452.07 46.64h1.4v1.4h-1.4zM455.55 46.64h1.4v1.4h-1.4zM459.02 46.64h1.4v1.4h-1.4zM462.50 46.64h1.4v1.4h-1.4zM465.98 46.64h1.4v1.4h-1.4zM469.46 46.64h1.4v1.4h-1.4zM472.94 46.64h1.4v1.4h-1.4zM476.41 46.64h1.4v1.4h-1.4zM479.89 46.64h1.4v1.4h-1.4zM483.37 46.64h1.4v1.4h-1.4zM486.84 46.64h1.4v1.4h-1.4zM490.32 46.64h1.4v1.4h-1.4zM493.80 46.64h1.4v1.4h-1.4zM354.70 50.17h1.4v1.4h-1.4zM358.18 50.17h1.4v1.4h-1.4zM361.65 50.17h1.4v1.4h-1.4zM365.13 50.17h1.4v1.4h-1.4zM368.61 50.17h1.4v1.4h-1.4zM372.09 50.17h1.4v1.4h-1.4zM375.56 50.17h1.4v1.4h-1.4zM379.04 50.17h1.4v1.4h-1.4zM382.52 50.17h1.4v1.4h-1.4zM386.00 50.17h1.4v1.4h-1.4zM389.47 50.17h1.4v1.4h-1.4zM392.95 50.17h1.4v1.4h-1.4zM396.43 50.17h1.4v1.4h-1.4zM399.91 50.17h1.4v1.4h-1.4zM403.38 50.17h1.4v1.4h-1.4zM406.86 50.17h1.4v1.4h-1.4zM410.34 50.17h1.4v1.4h-1.4zM413.82 50.17h1.4v1.4h-1.4zM417.30 50.17h1.4v1.4h-1.4zM420.77 50.17h1.4v1.4h-1.4zM424.25 50.17h1.4v1.4h-1.4zM427.73 50.17h1.4v1.4h-1.4zM431.20 50.17h1.4v1.4h-1.4zM434.68 50.17h1.4v1.4h-1.4zM438.16 50.17h1.4v1.4h-1.4zM441.64 50.17h1.4v1.4h-1.4zM445.12 50.17h1.4v1.4h-1.4zM448.59 50.17h1.4v1.4h-1.4zM452.07 50.17h1.4v1.4h-1.4zM455.55 50.17h1.4v1.4h-1.4zM459.02 50.17h1.4v1.4h-1.4zM462.50 50.17h1.4v1.4h-1.4zM465.98 50.17h1.4v1.4h-1.4zM469.46 50.17h1.4v1.4h-1.4zM472.94 50.17h1.4v1.4h-1.4zM476.41 50.17h1.4v1.4h-1.4zM479.89 50.17h1.4v1.4h-1.4zM483.37 50.17h1.4v1.4h-1.4zM486.84 50.17h1.4v1.4h-1.4zM490.32 50.17h1.4v1.4h-1.4zM493.80 50.17h1.4v1.4h-1.4zM354.70 53.71h1.4v1.4h-1.4zM358.18 53.71h1.4v1.4h-1.4zM361.65 53.71h1.4v1.4h-1.4zM365.13 53.71h1.4v1.4h-1.4zM368.61 53.71h1.4v1.4h-1.4zM372.09 53.71h1.4v1.4h-1.4zM375.56 53.71h1.4v1.4h-1.4zM379.04 53.71h1.4v1.4h-1.4zM382.52 53.71h1.4v1.4h-1.4zM386.00 53.71h1.4v1.4h-1.4zM389.47 53.71h1.4v1.4h-1.4zM392.95 53.71h1.4v1.4h-1.4zM396.43 53.71h1.4v1.4h-1.4zM399.91 53.71h1.4v1.4h-1.4zM403.38 53.71h1.4v1.4h-1.4zM406.86 53.71h1.4v1.4h-1.4zM410.34 53.71h1.4v1.4h-1.4zM413.82 53.71h1.4v1.4h-1.4zM417.30 53.71h1.4v1.4h-1.4zM420.77 53.71h1.4v1.4h-1.4zM424.25 53.71h1.4v1.4h-1.4zM427.73 53.71h1.4v1.4h-1.4zM431.20 53.71h1.4v1.4h-1.4zM434.68 53.71h1.4v1.4h-1.4zM438.16 53.71h1.4v1.4h-1.4zM441.64 53.71h1.4v1.4h-1.4zM445.12 53.71h1.4v1.4h-1.4zM448.59 53.71h1.4v1.4h-1.4zM452.07 53.71h1.4v1.4h-1.4zM455.55 53.71h1.4v1.4h-1.4zM459.02 53.71h1.4v1.4h-1.4zM462.50 53.71h1.4v1.4h-1.4zM465.98 53.71h1.4v1.4h-1.4zM469.46 53.71h1.4v1.4h-1.4zM472.94 53.71h1.4v1.4h-1.4zM476.41 53.71h1.4v1.4h-1.4zM479.89 53.71h1.4v1.4h-1.4zM483.37 53.71h1.4v1.4h-1.4zM486.84 53.71h1.4v1.4h-1.4zM490.32 53.71h1.4v1.4h-1.4zM493.80 53.71h1.4v1.4h-1.4zM354.70 57.25h1.4v1.4h-1.4zM358.18 57.25h1.4v1.4h-1.4zM361.65 57.25h1.4v1.4h-1.4zM365.13 57.25h1.4v1.4h-1.4zM368.61 57.25h1.4v1.4h-1.4zM372.09 57.25h1.4v1.4h-1.4zM375.56 57.25h1.4v1.4h-1.4zM379.04 57.25h1.4v1.4h-1.4zM382.52 57.25h1.4v1.4h-1.4zM386.00 57.25h1.4v1.4h-1.4zM389.47 57.25h1.4v1.4h-1.4zM392.95 57.25h1.4v1.4h-1.4zM396.43 57.25h1.4v1.4h-1.4zM399.91 57.25h1.4v1.4h-1.4zM403.38 57.25h1.4v1.4h-1.4zM406.86 57.25h1.4v1.4h-1.4zM410.34 57.25h1.4v1.4h-1.4zM413.82 57.25h1.4v1.4h-1.4zM417.30 57.25h1.4v1.4h-1.4zM420.77 57.25h1.4v1.4h-1.4zM424.25 57.25h1.4v1.4h-1.4zM427.73 57.25h1.4v1.4h-1.4zM431.20 57.25h1.4v1.4h-1.4zM434.68 57.25h1.4v1.4h-1.4zM438.16 57.25h1.4v1.4h-1.4zM441.64 57.25h1.4v1.4h-1.4zM445.12 57.25h1.4v1.4h-1.4zM448.59 57.25h1.4v1.4h-1.4zM452.07 57.25h1.4v1.4h-1.4zM455.55 57.25h1.4v1.4h-1.4zM459.02 57.25h1.4v1.4h-1.4zM462.50 57.25h1.4v1.4h-1.4zM465.98 57.25h1.4v1.4h-1.4zM469.46 57.25h1.4v1.4h-1.4zM472.94 57.25h1.4v1.4h-1.4zM476.41 57.25h1.4v1.4h-1.4zM479.89 57.25h1.4v1.4h-1.4zM483.37 57.25h1.4v1.4h-1.4zM486.84 57.25h1.4v1.4h-1.4zM490.32 57.25h1.4v1.4h-1.4zM493.80 57.25h1.4v1.4h-1.4zM354.70 60.79h1.4v1.4h-1.4zM358.18 60.79h1.4v1.4h-1.4zM361.65 60.79h1.4v1.4h-1.4zM365.13 60.79h1.4v1.4h-1.4zM368.61 60.79h1.4v1.4h-1.4zM372.09 60.79h1.4v1.4h-1.4zM375.56 60.79h1.4v1.4h-1.4zM379.04 60.79h1.4v1.4h-1.4zM382.52 60.79h1.4v1.4h-1.4zM386.00 60.79h1.4v1.4h-1.4zM389.47 60.79h1.4v1.4h-1.4zM392.95 60.79h1.4v1.4h-1.4zM396.43 60.79h1.4v1.4h-1.4zM399.91 60.79h1.4v1.4h-1.4zM403.38 60.79h1.4v1.4h-1.4zM406.86 60.79h1.4v1.4h-1.4zM410.34 60.79h1.4v1.4h-1.4zM413.82 60.79h1.4v1.4h-1.4zM417.30 60.79h1.4v1.4h-1.4zM420.77 60.79h1.4v1.4h-1.4zM424.25 60.79h1.4v1.4h-1.4zM427.73 60.79h1.4v1.4h-1.4zM431.20 60.79h1.4v1.4h-1.4zM434.68 60.79h1.4v1.4h-1.4zM438.16 60.79h1.4v1.4h-1.4zM441.64 60.79h1.4v1.4h-1.4zM445.12 60.79h1.4v1.4h-1.4zM448.59 60.79h1.4v1.4h-1.4zM452.07 60.79h1.4v1.4h-1.4zM455.55 60.79h1.4v1.4h-1.4zM459.02 60.79h1.4v1.4h-1.4zM462.50 60.79h1.4v1.4h-1.4zM465.98 60.79h1.4v1.4h-1.4zM469.46 60.79h1.4v1.4h-1.4zM472.94 60.79h1.4v1.4h-1.4zM476.41 60.79h1.4v1.4h-1.4zM479.89 60.79h1.4v1.4h-1.4zM483.37 60.79h1.4v1.4h-1.4zM486.84 60.79h1.4v1.4h-1.4zM490.32 60.79h1.4v1.4h-1.4zM493.80 60.79h1.4v1.4h-1.4zM354.70 64.33h1.4v1.4h-1.4zM358.18 64.33h1.4v1.4h-1.4zM361.65 64.33h1.4v1.4h-1.4zM365.13 64.33h1.4v1.4h-1.4zM368.61 64.33h1.4v1.4h-1.4zM372.09 64.33h1.4v1.4h-1.4zM375.56 64.33h1.4v1.4h-1.4zM379.04 64.33h1.4v1.4h-1.4zM382.52 64.33h1.4v1.4h-1.4zM386.00 64.33h1.4v1.4h-1.4zM389.47 64.33h1.4v1.4h-1.4zM392.95 64.33h1.4v1.4h-1.4zM396.43 64.33h1.4v1.4h-1.4zM399.91 64.33h1.4v1.4h-1.4zM403.38 64.33h1.4v1.4h-1.4zM406.86 64.33h1.4v1.4h-1.4zM410.34 64.33h1.4v1.4h-1.4zM413.82 64.33h1.4v1.4h-1.4zM417.30 64.33h1.4v1.4h-1.4zM420.77 64.33h1.4v1.4h-1.4zM424.25 64.33h1.4v1.4h-1.4zM427.73 64.33h1.4v1.4h-1.4zM431.20 64.33h1.4v1.4h-1.4zM434.68 64.33h1.4v1.4h-1.4zM438.16 64.33h1.4v1.4h-1.4zM441.64 64.33h1.4v1.4h-1.4zM445.12 64.33h1.4v1.4h-1.4zM448.59 64.33h1.4v1.4h-1.4zM452.07 64.33h1.4v1.4h-1.4zM455.55 64.33h1.4v1.4h-1.4zM459.02 64.33h1.4v1.4h-1.4zM462.50 64.33h1.4v1.4h-1.4zM465.98 64.33h1.4v1.4h-1.4zM469.46 64.33h1.4v1.4h-1.4zM472.94 64.33h1.4v1.4h-1.4zM476.41 64.33h1.4v1.4h-1.4zM479.89 64.33h1.4v1.4h-1.4zM483.37 64.33h1.4v1.4h-1.4zM486.84 64.33h1.4v1.4h-1.4zM490.32 64.33h1.4v1.4h-1.4zM493.80 64.33h1.4v1.4h-1.4zM354.70 67.86h1.4v1.4h-1.4zM358.18 67.86h1.4v1.4h-1.4zM361.65 67.86h1.4v1.4h-1.4zM365.13 67.86h1.4v1.4h-1.4zM368.61 67.86h1.4v1.4h-1.4zM372.09 67.86h1.4v1.4h-1.4zM375.56 67.86h1.4v1.4h-1.4zM379.04 67.86h1.4v1.4h-1.4zM382.52 67.86h1.4v1.4h-1.4zM386.00 67.86h1.4v1.4h-1.4zM389.47 67.86h1.4v1.4h-1.4zM392.95 67.86h1.4v1.4h-1.4zM396.43 67.86h1.4v1.4h-1.4zM399.91 67.86h1.4v1.4h-1.4zM403.38 67.86h1.4v1.4h-1.4zM406.86 67.86h1.4v1.4h-1.4zM410.34 67.86h1.4v1.4h-1.4zM413.82 67.86h1.4v1.4h-1.4zM417.30 67.86h1.4v1.4h-1.4zM420.77 67.86h1.4v1.4h-1.4zM424.25 67.86h1.4v1.4h-1.4zM427.73 67.86h1.4v1.4h-1.4zM431.20 67.86h1.4v1.4h-1.4zM434.68 67.86h1.4v1.4h-1.4zM438.16 67.86h1.4v1.4h-1.4zM441.64 67.86h1.4v1.4h-1.4zM445.12 67.86h1.4v1.4h-1.4zM448.59 67.86h1.4v1.4h-1.4zM452.07 67.86h1.4v1.4h-1.4zM455.55 67.86h1.4v1.4h-1.4zM459.02 67.86h1.4v1.4h-1.4zM462.50 67.86h1.4v1.4h-1.4zM465.98 67.86h1.4v1.4h-1.4zM469.46 67.86h1.4v1.4h-1.4zM472.94 67.86h1.4v1.4h-1.4zM476.41 67.86h1.4v1.4h-1.4zM479.89 67.86h1.4v1.4h-1.4zM483.37 67.86h1.4v1.4h-1.4zM486.84 67.86h1.4v1.4h-1.4zM490.32 67.86h1.4v1.4h-1.4zM493.80 67.86h1.4v1.4h-1.4zM354.70 71.40h1.4v1.4h-1.4zM372.09 71.40h1.4v1.4h-1.4zM375.56 71.40h1.4v1.4h-1.4zM379.04 71.40h1.4v1.4h-1.4zM382.52 71.40h1.4v1.4h-1.4zM386.00 71.40h1.4v1.4h-1.4zM389.47 71.40h1.4v1.4h-1.4zM392.95 71.40h1.4v1.4h-1.4zM396.43 71.40h1.4v1.4h-1.4zM399.91 71.40h1.4v1.4h-1.4zM403.38 71.40h1.4v1.4h-1.4zM406.86 71.40h1.4v1.4h-1.4zM410.34 71.40h1.4v1.4h-1.4zM413.82 71.40h1.4v1.4h-1.4zM417.30 71.40h1.4v1.4h-1.4zM420.77 71.40h1.4v1.4h-1.4zM424.25 71.40h1.4v1.4h-1.4zM427.73 71.40h1.4v1.4h-1.4zM431.20 71.40h1.4v1.4h-1.4zM434.68 71.40h1.4v1.4h-1.4zM438.16 71.40h1.4v1.4h-1.4zM441.64 71.40h1.4v1.4h-1.4zM445.12 71.40h1.4v1.4h-1.4zM448.59 71.40h1.4v1.4h-1.4zM452.07 71.40h1.4v1.4h-1.4zM455.55 71.40h1.4v1.4h-1.4zM459.02 71.40h1.4v1.4h-1.4zM462.50 71.40h1.4v1.4h-1.4zM465.98 71.40h1.4v1.4h-1.4zM469.46 71.40h1.4v1.4h-1.4zM472.94 71.40h1.4v1.4h-1.4zM476.41 71.40h1.4v1.4h-1.4zM479.89 71.40h1.4v1.4h-1.4zM483.37 71.40h1.4v1.4h-1.4zM486.84 71.40h1.4v1.4h-1.4zM490.32 71.40h1.4v1.4h-1.4zM493.80 71.40h1.4v1.4h-1.4zM354.70 74.94h1.4v1.4h-1.4zM372.09 74.94h1.4v1.4h-1.4zM375.56 74.94h1.4v1.4h-1.4zM379.04 74.94h1.4v1.4h-1.4zM382.52 74.94h1.4v1.4h-1.4zM386.00 74.94h1.4v1.4h-1.4zM389.47 74.94h1.4v1.4h-1.4zM392.95 74.94h1.4v1.4h-1.4zM396.43 74.94h1.4v1.4h-1.4zM399.91 74.94h1.4v1.4h-1.4zM403.38 74.94h1.4v1.4h-1.4zM406.86 74.94h1.4v1.4h-1.4zM410.34 74.94h1.4v1.4h-1.4zM413.82 74.94h1.4v1.4h-1.4zM417.30 74.94h1.4v1.4h-1.4zM420.77 74.94h1.4v1.4h-1.4zM424.25 74.94h1.4v1.4h-1.4zM427.73 74.94h1.4v1.4h-1.4zM431.20 74.94h1.4v1.4h-1.4zM434.68 74.94h1.4v1.4h-1.4zM438.16 74.94h1.4v1.4h-1.4zM441.64 74.94h1.4v1.4h-1.4zM445.12 74.94h1.4v1.4h-1.4zM448.59 74.94h1.4v1.4h-1.4zM452.07 74.94h1.4v1.4h-1.4zM455.55 74.94h1.4v1.4h-1.4zM459.02 74.94h1.4v1.4h-1.4zM462.50 74.94h1.4v1.4h-1.4zM465.98 74.94h1.4v1.4h-1.4zM469.46 74.94h1.4v1.4h-1.4zM472.94 74.94h1.4v1.4h-1.4zM476.41 74.94h1.4v1.4h-1.4zM479.89 74.94h1.4v1.4h-1.4zM483.37 74.94h1.4v1.4h-1.4zM486.84 74.94h1.4v1.4h-1.4zM490.32 74.94h1.4v1.4h-1.4zM493.80 74.94h1.4v1.4h-1.4zM354.70 78.48h1.4v1.4h-1.4zM358.18 78.48h1.4v1.4h-1.4zM361.65 78.48h1.4v1.4h-1.4zM365.13 78.48h1.4v1.4h-1.4zM424.25 78.48h1.4v1.4h-1.4zM427.73 78.48h1.4v1.4h-1.4zM431.20 78.48h1.4v1.4h-1.4zM434.68 78.48h1.4v1.4h-1.4zM438.16 78.48h1.4v1.4h-1.4zM441.64 78.48h1.4v1.4h-1.4zM445.12 78.48h1.4v1.4h-1.4zM448.59 78.48h1.4v1.4h-1.4zM452.07 78.48h1.4v1.4h-1.4zM455.55 78.48h1.4v1.4h-1.4zM459.02 78.48h1.4v1.4h-1.4zM462.50 78.48h1.4v1.4h-1.4zM465.98 78.48h1.4v1.4h-1.4zM469.46 78.48h1.4v1.4h-1.4zM472.94 78.48h1.4v1.4h-1.4zM476.41 78.48h1.4v1.4h-1.4zM479.89 78.48h1.4v1.4h-1.4zM483.37 78.48h1.4v1.4h-1.4zM486.84 78.48h1.4v1.4h-1.4zM490.32 78.48h1.4v1.4h-1.4zM493.80 78.48h1.4v1.4h-1.4zM354.70 82.01h1.4v1.4h-1.4zM358.18 82.01h1.4v1.4h-1.4zM361.65 82.01h1.4v1.4h-1.4zM424.25 82.01h1.4v1.4h-1.4zM427.73 82.01h1.4v1.4h-1.4zM431.20 82.01h1.4v1.4h-1.4zM434.68 82.01h1.4v1.4h-1.4zM438.16 82.01h1.4v1.4h-1.4zM441.64 82.01h1.4v1.4h-1.4zM445.12 82.01h1.4v1.4h-1.4zM448.59 82.01h1.4v1.4h-1.4zM452.07 82.01h1.4v1.4h-1.4zM455.55 82.01h1.4v1.4h-1.4zM459.02 82.01h1.4v1.4h-1.4zM462.50 82.01h1.4v1.4h-1.4zM465.98 82.01h1.4v1.4h-1.4zM469.46 82.01h1.4v1.4h-1.4zM472.94 82.01h1.4v1.4h-1.4zM476.41 82.01h1.4v1.4h-1.4zM479.89 82.01h1.4v1.4h-1.4zM483.37 82.01h1.4v1.4h-1.4zM486.84 82.01h1.4v1.4h-1.4zM490.32 82.01h1.4v1.4h-1.4zM493.80 82.01h1.4v1.4h-1.4zM354.70 85.55h1.4v1.4h-1.4zM358.18 85.55h1.4v1.4h-1.4zM361.65 85.55h1.4v1.4h-1.4zM434.68 85.55h1.4v1.4h-1.4zM438.16 85.55h1.4v1.4h-1.4zM441.64 85.55h1.4v1.4h-1.4zM445.12 85.55h1.4v1.4h-1.4zM448.59 85.55h1.4v1.4h-1.4zM452.07 85.55h1.4v1.4h-1.4zM455.55 85.55h1.4v1.4h-1.4zM459.02 85.55h1.4v1.4h-1.4zM462.50 85.55h1.4v1.4h-1.4zM465.98 85.55h1.4v1.4h-1.4zM469.46 85.55h1.4v1.4h-1.4zM472.94 85.55h1.4v1.4h-1.4zM476.41 85.55h1.4v1.4h-1.4zM479.89 85.55h1.4v1.4h-1.4zM483.37 85.55h1.4v1.4h-1.4zM486.84 85.55h1.4v1.4h-1.4zM490.32 85.55h1.4v1.4h-1.4zM493.80 85.55h1.4v1.4h-1.4zM354.70 89.09h1.4v1.4h-1.4zM358.18 89.09h1.4v1.4h-1.4zM361.65 89.09h1.4v1.4h-1.4zM434.68 89.09h1.4v1.4h-1.4zM438.16 89.09h1.4v1.4h-1.4zM441.64 89.09h1.4v1.4h-1.4zM445.12 89.09h1.4v1.4h-1.4zM448.59 89.09h1.4v1.4h-1.4zM452.07 89.09h1.4v1.4h-1.4zM455.55 89.09h1.4v1.4h-1.4zM459.02 89.09h1.4v1.4h-1.4zM462.50 89.09h1.4v1.4h-1.4zM465.98 89.09h1.4v1.4h-1.4zM469.46 89.09h1.4v1.4h-1.4zM472.94 89.09h1.4v1.4h-1.4zM476.41 89.09h1.4v1.4h-1.4zM479.89 89.09h1.4v1.4h-1.4zM483.37 89.09h1.4v1.4h-1.4zM486.84 89.09h1.4v1.4h-1.4zM490.32 89.09h1.4v1.4h-1.4zM493.80 89.09h1.4v1.4h-1.4zM354.70 92.62h1.4v1.4h-1.4zM358.18 92.62h1.4v1.4h-1.4zM361.65 92.62h1.4v1.4h-1.4zM434.68 92.62h1.4v1.4h-1.4zM438.16 92.62h1.4v1.4h-1.4zM441.64 92.62h1.4v1.4h-1.4zM445.12 92.62h1.4v1.4h-1.4zM448.59 92.62h1.4v1.4h-1.4zM452.07 92.62h1.4v1.4h-1.4zM455.55 92.62h1.4v1.4h-1.4zM459.02 92.62h1.4v1.4h-1.4zM462.50 92.62h1.4v1.4h-1.4zM465.98 92.62h1.4v1.4h-1.4zM469.46 92.62h1.4v1.4h-1.4zM472.94 92.62h1.4v1.4h-1.4zM476.41 92.62h1.4v1.4h-1.4zM479.89 92.62h1.4v1.4h-1.4zM483.37 92.62h1.4v1.4h-1.4zM486.84 92.62h1.4v1.4h-1.4zM490.32 92.62h1.4v1.4h-1.4zM493.80 92.62h1.4v1.4h-1.4zM354.70 96.16h1.4v1.4h-1.4zM358.18 96.16h1.4v1.4h-1.4zM361.65 96.16h1.4v1.4h-1.4zM434.68 96.16h1.4v1.4h-1.4zM438.16 96.16h1.4v1.4h-1.4zM441.64 96.16h1.4v1.4h-1.4zM445.12 96.16h1.4v1.4h-1.4zM448.59 96.16h1.4v1.4h-1.4zM452.07 96.16h1.4v1.4h-1.4zM455.55 96.16h1.4v1.4h-1.4zM459.02 96.16h1.4v1.4h-1.4zM462.50 96.16h1.4v1.4h-1.4zM465.98 96.16h1.4v1.4h-1.4zM469.46 96.16h1.4v1.4h-1.4zM472.94 96.16h1.4v1.4h-1.4zM476.41 96.16h1.4v1.4h-1.4zM479.89 96.16h1.4v1.4h-1.4zM483.37 96.16h1.4v1.4h-1.4zM486.84 96.16h1.4v1.4h-1.4zM490.32 96.16h1.4v1.4h-1.4zM493.80 96.16h1.4v1.4h-1.4zM354.70 99.70h1.4v1.4h-1.4zM368.61 99.70h1.4v1.4h-1.4zM372.09 99.70h1.4v1.4h-1.4zM375.56 99.70h1.4v1.4h-1.4zM379.04 99.70h1.4v1.4h-1.4zM382.52 99.70h1.4v1.4h-1.4zM386.00 99.70h1.4v1.4h-1.4zM438.16 99.70h1.4v1.4h-1.4zM441.64 99.70h1.4v1.4h-1.4zM445.12 99.70h1.4v1.4h-1.4zM448.59 99.70h1.4v1.4h-1.4zM452.07 99.70h1.4v1.4h-1.4zM455.55 99.70h1.4v1.4h-1.4zM459.02 99.70h1.4v1.4h-1.4zM462.50 99.70h1.4v1.4h-1.4zM465.98 99.70h1.4v1.4h-1.4zM469.46 99.70h1.4v1.4h-1.4zM472.94 99.70h1.4v1.4h-1.4zM476.41 99.70h1.4v1.4h-1.4zM479.89 99.70h1.4v1.4h-1.4zM483.37 99.70h1.4v1.4h-1.4zM486.84 99.70h1.4v1.4h-1.4zM490.32 99.70h1.4v1.4h-1.4zM493.80 99.70h1.4v1.4h-1.4zM354.70 103.24h1.4v1.4h-1.4zM368.61 103.24h1.4v1.4h-1.4zM372.09 103.24h1.4v1.4h-1.4zM375.56 103.24h1.4v1.4h-1.4zM379.04 103.24h1.4v1.4h-1.4zM382.52 103.24h1.4v1.4h-1.4zM386.00 103.24h1.4v1.4h-1.4zM438.16 103.24h1.4v1.4h-1.4zM441.64 103.24h1.4v1.4h-1.4zM445.12 103.24h1.4v1.4h-1.4zM448.59 103.24h1.4v1.4h-1.4zM452.07 103.24h1.4v1.4h-1.4zM455.55 103.24h1.4v1.4h-1.4zM459.02 103.24h1.4v1.4h-1.4zM462.50 103.24h1.4v1.4h-1.4zM465.98 103.24h1.4v1.4h-1.4zM469.46 103.24h1.4v1.4h-1.4zM472.94 103.24h1.4v1.4h-1.4zM476.41 103.24h1.4v1.4h-1.4zM479.89 103.24h1.4v1.4h-1.4zM483.37 103.24h1.4v1.4h-1.4zM486.84 103.24h1.4v1.4h-1.4zM490.32 103.24h1.4v1.4h-1.4zM493.80 103.24h1.4v1.4h-1.4zM354.70 106.78h1.4v1.4h-1.4zM358.18 106.78h1.4v1.4h-1.4zM361.65 106.78h1.4v1.4h-1.4zM365.13 106.78h1.4v1.4h-1.4zM368.61 106.78h1.4v1.4h-1.4zM372.09 106.78h1.4v1.4h-1.4zM375.56 106.78h1.4v1.4h-1.4zM379.04 106.78h1.4v1.4h-1.4zM382.52 106.78h1.4v1.4h-1.4zM386.00 106.78h1.4v1.4h-1.4zM438.16 106.78h1.4v1.4h-1.4zM441.64 106.78h1.4v1.4h-1.4zM445.12 106.78h1.4v1.4h-1.4zM448.59 106.78h1.4v1.4h-1.4zM452.07 106.78h1.4v1.4h-1.4zM455.55 106.78h1.4v1.4h-1.4zM459.02 106.78h1.4v1.4h-1.4zM462.50 106.78h1.4v1.4h-1.4zM465.98 106.78h1.4v1.4h-1.4zM469.46 106.78h1.4v1.4h-1.4zM472.94 106.78h1.4v1.4h-1.4zM476.41 106.78h1.4v1.4h-1.4zM479.89 106.78h1.4v1.4h-1.4zM483.37 106.78h1.4v1.4h-1.4zM486.84 106.78h1.4v1.4h-1.4zM490.32 106.78h1.4v1.4h-1.4zM493.80 106.78h1.4v1.4h-1.4zM354.70 110.31h1.4v1.4h-1.4zM358.18 110.31h1.4v1.4h-1.4zM361.65 110.31h1.4v1.4h-1.4zM365.13 110.31h1.4v1.4h-1.4zM368.61 110.31h1.4v1.4h-1.4zM372.09 110.31h1.4v1.4h-1.4zM375.56 110.31h1.4v1.4h-1.4zM379.04 110.31h1.4v1.4h-1.4zM382.52 110.31h1.4v1.4h-1.4zM386.00 110.31h1.4v1.4h-1.4zM424.25 110.31h1.4v1.4h-1.4zM427.73 110.31h1.4v1.4h-1.4zM431.20 110.31h1.4v1.4h-1.4zM434.68 110.31h1.4v1.4h-1.4zM438.16 110.31h1.4v1.4h-1.4zM441.64 110.31h1.4v1.4h-1.4zM445.12 110.31h1.4v1.4h-1.4zM448.59 110.31h1.4v1.4h-1.4zM452.07 110.31h1.4v1.4h-1.4zM455.55 110.31h1.4v1.4h-1.4zM459.02 110.31h1.4v1.4h-1.4zM462.50 110.31h1.4v1.4h-1.4zM465.98 110.31h1.4v1.4h-1.4zM469.46 110.31h1.4v1.4h-1.4zM472.94 110.31h1.4v1.4h-1.4zM476.41 110.31h1.4v1.4h-1.4zM479.89 110.31h1.4v1.4h-1.4zM483.37 110.31h1.4v1.4h-1.4zM486.84 110.31h1.4v1.4h-1.4zM490.32 110.31h1.4v1.4h-1.4zM493.80 110.31h1.4v1.4h-1.4zM354.70 113.85h1.4v1.4h-1.4zM358.18 113.85h1.4v1.4h-1.4zM361.65 113.85h1.4v1.4h-1.4zM365.13 113.85h1.4v1.4h-1.4zM368.61 113.85h1.4v1.4h-1.4zM372.09 113.85h1.4v1.4h-1.4zM375.56 113.85h1.4v1.4h-1.4zM379.04 113.85h1.4v1.4h-1.4zM382.52 113.85h1.4v1.4h-1.4zM386.00 113.85h1.4v1.4h-1.4zM424.25 113.85h1.4v1.4h-1.4zM427.73 113.85h1.4v1.4h-1.4zM431.20 113.85h1.4v1.4h-1.4zM434.68 113.85h1.4v1.4h-1.4zM438.16 113.85h1.4v1.4h-1.4zM441.64 113.85h1.4v1.4h-1.4zM445.12 113.85h1.4v1.4h-1.4zM448.59 113.85h1.4v1.4h-1.4zM452.07 113.85h1.4v1.4h-1.4zM455.55 113.85h1.4v1.4h-1.4zM459.02 113.85h1.4v1.4h-1.4zM462.50 113.85h1.4v1.4h-1.4zM465.98 113.85h1.4v1.4h-1.4zM469.46 113.85h1.4v1.4h-1.4zM472.94 113.85h1.4v1.4h-1.4zM476.41 113.85h1.4v1.4h-1.4zM479.89 113.85h1.4v1.4h-1.4zM483.37 113.85h1.4v1.4h-1.4zM486.84 113.85h1.4v1.4h-1.4zM490.32 113.85h1.4v1.4h-1.4zM493.80 113.85h1.4v1.4h-1.4zM354.70 117.39h1.4v1.4h-1.4zM358.18 117.39h1.4v1.4h-1.4zM361.65 117.39h1.4v1.4h-1.4zM365.13 117.39h1.4v1.4h-1.4zM368.61 117.39h1.4v1.4h-1.4zM372.09 117.39h1.4v1.4h-1.4zM375.56 117.39h1.4v1.4h-1.4zM379.04 117.39h1.4v1.4h-1.4zM382.52 117.39h1.4v1.4h-1.4zM386.00 117.39h1.4v1.4h-1.4zM424.25 117.39h1.4v1.4h-1.4zM427.73 117.39h1.4v1.4h-1.4zM431.20 117.39h1.4v1.4h-1.4zM434.68 117.39h1.4v1.4h-1.4zM438.16 117.39h1.4v1.4h-1.4zM441.64 117.39h1.4v1.4h-1.4zM445.12 117.39h1.4v1.4h-1.4zM448.59 117.39h1.4v1.4h-1.4zM452.07 117.39h1.4v1.4h-1.4zM455.55 117.39h1.4v1.4h-1.4zM459.02 117.39h1.4v1.4h-1.4zM462.50 117.39h1.4v1.4h-1.4zM465.98 117.39h1.4v1.4h-1.4zM469.46 117.39h1.4v1.4h-1.4zM472.94 117.39h1.4v1.4h-1.4zM476.41 117.39h1.4v1.4h-1.4zM479.89 117.39h1.4v1.4h-1.4zM483.37 117.39h1.4v1.4h-1.4zM486.84 117.39h1.4v1.4h-1.4zM490.32 117.39h1.4v1.4h-1.4zM493.80 117.39h1.4v1.4h-1.4zM354.70 120.92h1.4v1.4h-1.4zM358.18 120.92h1.4v1.4h-1.4zM361.65 120.92h1.4v1.4h-1.4zM365.13 120.92h1.4v1.4h-1.4zM368.61 120.92h1.4v1.4h-1.4zM372.09 120.92h1.4v1.4h-1.4zM375.56 120.92h1.4v1.4h-1.4zM379.04 120.92h1.4v1.4h-1.4zM382.52 120.92h1.4v1.4h-1.4zM386.00 120.92h1.4v1.4h-1.4zM389.47 120.92h1.4v1.4h-1.4zM424.25 120.92h1.4v1.4h-1.4zM427.73 120.92h1.4v1.4h-1.4zM431.20 120.92h1.4v1.4h-1.4zM434.68 120.92h1.4v1.4h-1.4zM438.16 120.92h1.4v1.4h-1.4zM441.64 120.92h1.4v1.4h-1.4zM445.12 120.92h1.4v1.4h-1.4zM448.59 120.92h1.4v1.4h-1.4zM452.07 120.92h1.4v1.4h-1.4zM455.55 120.92h1.4v1.4h-1.4zM459.02 120.92h1.4v1.4h-1.4zM462.50 120.92h1.4v1.4h-1.4zM465.98 120.92h1.4v1.4h-1.4zM469.46 120.92h1.4v1.4h-1.4zM472.94 120.92h1.4v1.4h-1.4zM476.41 120.92h1.4v1.4h-1.4zM479.89 120.92h1.4v1.4h-1.4zM483.37 120.92h1.4v1.4h-1.4zM486.84 120.92h1.4v1.4h-1.4zM490.32 120.92h1.4v1.4h-1.4zM493.80 120.92h1.4v1.4h-1.4zM354.70 124.46h1.4v1.4h-1.4zM358.18 124.46h1.4v1.4h-1.4zM361.65 124.46h1.4v1.4h-1.4zM365.13 124.46h1.4v1.4h-1.4zM368.61 124.46h1.4v1.4h-1.4zM372.09 124.46h1.4v1.4h-1.4zM375.56 124.46h1.4v1.4h-1.4zM379.04 124.46h1.4v1.4h-1.4zM382.52 124.46h1.4v1.4h-1.4zM386.00 124.46h1.4v1.4h-1.4zM389.47 124.46h1.4v1.4h-1.4zM392.95 124.46h1.4v1.4h-1.4zM396.43 124.46h1.4v1.4h-1.4zM399.91 124.46h1.4v1.4h-1.4zM424.25 124.46h1.4v1.4h-1.4zM427.73 124.46h1.4v1.4h-1.4zM431.20 124.46h1.4v1.4h-1.4zM434.68 124.46h1.4v1.4h-1.4zM438.16 124.46h1.4v1.4h-1.4zM441.64 124.46h1.4v1.4h-1.4zM445.12 124.46h1.4v1.4h-1.4zM448.59 124.46h1.4v1.4h-1.4zM452.07 124.46h1.4v1.4h-1.4zM455.55 124.46h1.4v1.4h-1.4zM459.02 124.46h1.4v1.4h-1.4zM462.50 124.46h1.4v1.4h-1.4zM465.98 124.46h1.4v1.4h-1.4zM469.46 124.46h1.4v1.4h-1.4zM472.94 124.46h1.4v1.4h-1.4zM476.41 124.46h1.4v1.4h-1.4zM479.89 124.46h1.4v1.4h-1.4zM483.37 124.46h1.4v1.4h-1.4zM486.84 124.46h1.4v1.4h-1.4zM490.32 124.46h1.4v1.4h-1.4zM493.80 124.46h1.4v1.4h-1.4zM354.70 128.00h1.4v1.4h-1.4zM358.18 128.00h1.4v1.4h-1.4zM361.65 128.00h1.4v1.4h-1.4zM365.13 128.00h1.4v1.4h-1.4zM368.61 128.00h1.4v1.4h-1.4zM372.09 128.00h1.4v1.4h-1.4zM375.56 128.00h1.4v1.4h-1.4zM379.04 128.00h1.4v1.4h-1.4zM382.52 128.00h1.4v1.4h-1.4zM386.00 128.00h1.4v1.4h-1.4zM389.47 128.00h1.4v1.4h-1.4zM392.95 128.00h1.4v1.4h-1.4zM396.43 128.00h1.4v1.4h-1.4zM399.91 128.00h1.4v1.4h-1.4zM424.25 128.00h1.4v1.4h-1.4zM427.73 128.00h1.4v1.4h-1.4zM431.20 128.00h1.4v1.4h-1.4zM434.68 128.00h1.4v1.4h-1.4zM438.16 128.00h1.4v1.4h-1.4zM441.64 128.00h1.4v1.4h-1.4zM445.12 128.00h1.4v1.4h-1.4zM448.59 128.00h1.4v1.4h-1.4zM452.07 128.00h1.4v1.4h-1.4zM455.55 128.00h1.4v1.4h-1.4zM459.02 128.00h1.4v1.4h-1.4zM462.50 128.00h1.4v1.4h-1.4zM465.98 128.00h1.4v1.4h-1.4zM469.46 128.00h1.4v1.4h-1.4zM472.94 128.00h1.4v1.4h-1.4zM476.41 128.00h1.4v1.4h-1.4zM479.89 128.00h1.4v1.4h-1.4zM483.37 128.00h1.4v1.4h-1.4zM486.84 128.00h1.4v1.4h-1.4zM490.32 128.00h1.4v1.4h-1.4zM493.80 128.00h1.4v1.4h-1.4zM354.70 131.54h1.4v1.4h-1.4zM358.18 131.54h1.4v1.4h-1.4zM361.65 131.54h1.4v1.4h-1.4zM365.13 131.54h1.4v1.4h-1.4zM368.61 131.54h1.4v1.4h-1.4zM372.09 131.54h1.4v1.4h-1.4zM375.56 131.54h1.4v1.4h-1.4zM379.04 131.54h1.4v1.4h-1.4zM382.52 131.54h1.4v1.4h-1.4zM386.00 131.54h1.4v1.4h-1.4zM389.47 131.54h1.4v1.4h-1.4zM392.95 131.54h1.4v1.4h-1.4zM396.43 131.54h1.4v1.4h-1.4zM399.91 131.54h1.4v1.4h-1.4zM403.38 131.54h1.4v1.4h-1.4zM417.30 131.54h1.4v1.4h-1.4zM420.77 131.54h1.4v1.4h-1.4zM424.25 131.54h1.4v1.4h-1.4zM427.73 131.54h1.4v1.4h-1.4zM431.20 131.54h1.4v1.4h-1.4zM434.68 131.54h1.4v1.4h-1.4zM438.16 131.54h1.4v1.4h-1.4zM441.64 131.54h1.4v1.4h-1.4zM445.12 131.54h1.4v1.4h-1.4zM448.59 131.54h1.4v1.4h-1.4zM452.07 131.54h1.4v1.4h-1.4zM455.55 131.54h1.4v1.4h-1.4zM459.02 131.54h1.4v1.4h-1.4zM462.50 131.54h1.4v1.4h-1.4zM465.98 131.54h1.4v1.4h-1.4zM469.46 131.54h1.4v1.4h-1.4zM472.94 131.54h1.4v1.4h-1.4zM476.41 131.54h1.4v1.4h-1.4zM479.89 131.54h1.4v1.4h-1.4zM483.37 131.54h1.4v1.4h-1.4zM486.84 131.54h1.4v1.4h-1.4zM490.32 131.54h1.4v1.4h-1.4zM493.80 131.54h1.4v1.4h-1.4zM354.70 135.08h1.4v1.4h-1.4zM358.18 135.08h1.4v1.4h-1.4zM361.65 135.08h1.4v1.4h-1.4zM365.13 135.08h1.4v1.4h-1.4zM368.61 135.08h1.4v1.4h-1.4zM372.09 135.08h1.4v1.4h-1.4zM375.56 135.08h1.4v1.4h-1.4zM379.04 135.08h1.4v1.4h-1.4zM382.52 135.08h1.4v1.4h-1.4zM386.00 135.08h1.4v1.4h-1.4zM389.47 135.08h1.4v1.4h-1.4zM392.95 135.08h1.4v1.4h-1.4zM396.43 135.08h1.4v1.4h-1.4zM399.91 135.08h1.4v1.4h-1.4zM403.38 135.08h1.4v1.4h-1.4zM406.86 135.08h1.4v1.4h-1.4zM410.34 135.08h1.4v1.4h-1.4zM413.82 135.08h1.4v1.4h-1.4zM417.30 135.08h1.4v1.4h-1.4zM420.77 135.08h1.4v1.4h-1.4zM424.25 135.08h1.4v1.4h-1.4zM427.73 135.08h1.4v1.4h-1.4zM431.20 135.08h1.4v1.4h-1.4zM434.68 135.08h1.4v1.4h-1.4zM438.16 135.08h1.4v1.4h-1.4zM441.64 135.08h1.4v1.4h-1.4zM445.12 135.08h1.4v1.4h-1.4zM448.59 135.08h1.4v1.4h-1.4zM452.07 135.08h1.4v1.4h-1.4zM455.55 135.08h1.4v1.4h-1.4zM459.02 135.08h1.4v1.4h-1.4zM462.50 135.08h1.4v1.4h-1.4zM465.98 135.08h1.4v1.4h-1.4zM469.46 135.08h1.4v1.4h-1.4zM472.94 135.08h1.4v1.4h-1.4zM476.41 135.08h1.4v1.4h-1.4zM479.89 135.08h1.4v1.4h-1.4zM483.37 135.08h1.4v1.4h-1.4zM486.84 135.08h1.4v1.4h-1.4zM490.32 135.08h1.4v1.4h-1.4zM493.80 135.08h1.4v1.4h-1.4zM354.70 138.61h1.4v1.4h-1.4zM358.18 138.61h1.4v1.4h-1.4zM361.65 138.61h1.4v1.4h-1.4zM365.13 138.61h1.4v1.4h-1.4zM368.61 138.61h1.4v1.4h-1.4zM372.09 138.61h1.4v1.4h-1.4zM375.56 138.61h1.4v1.4h-1.4zM379.04 138.61h1.4v1.4h-1.4zM382.52 138.61h1.4v1.4h-1.4zM386.00 138.61h1.4v1.4h-1.4zM389.47 138.61h1.4v1.4h-1.4zM392.95 138.61h1.4v1.4h-1.4zM396.43 138.61h1.4v1.4h-1.4zM399.91 138.61h1.4v1.4h-1.4zM403.38 138.61h1.4v1.4h-1.4zM406.86 138.61h1.4v1.4h-1.4zM410.34 138.61h1.4v1.4h-1.4zM413.82 138.61h1.4v1.4h-1.4zM417.30 138.61h1.4v1.4h-1.4zM420.77 138.61h1.4v1.4h-1.4zM424.25 138.61h1.4v1.4h-1.4zM427.73 138.61h1.4v1.4h-1.4zM431.20 138.61h1.4v1.4h-1.4zM434.68 138.61h1.4v1.4h-1.4zM438.16 138.61h1.4v1.4h-1.4zM441.64 138.61h1.4v1.4h-1.4zM445.12 138.61h1.4v1.4h-1.4zM448.59 138.61h1.4v1.4h-1.4zM452.07 138.61h1.4v1.4h-1.4zM455.55 138.61h1.4v1.4h-1.4zM459.02 138.61h1.4v1.4h-1.4zM462.50 138.61h1.4v1.4h-1.4zM465.98 138.61h1.4v1.4h-1.4zM469.46 138.61h1.4v1.4h-1.4zM472.94 138.61h1.4v1.4h-1.4zM476.41 138.61h1.4v1.4h-1.4zM479.89 138.61h1.4v1.4h-1.4zM483.37 138.61h1.4v1.4h-1.4zM486.84 138.61h1.4v1.4h-1.4zM490.32 138.61h1.4v1.4h-1.4zM493.80 138.61h1.4v1.4h-1.4zM354.70 142.15h1.4v1.4h-1.4zM358.18 142.15h1.4v1.4h-1.4zM361.65 142.15h1.4v1.4h-1.4zM365.13 142.15h1.4v1.4h-1.4zM368.61 142.15h1.4v1.4h-1.4zM372.09 142.15h1.4v1.4h-1.4zM375.56 142.15h1.4v1.4h-1.4zM379.04 142.15h1.4v1.4h-1.4zM382.52 142.15h1.4v1.4h-1.4zM386.00 142.15h1.4v1.4h-1.4zM389.47 142.15h1.4v1.4h-1.4zM392.95 142.15h1.4v1.4h-1.4zM396.43 142.15h1.4v1.4h-1.4zM399.91 142.15h1.4v1.4h-1.4zM403.38 142.15h1.4v1.4h-1.4zM406.86 142.15h1.4v1.4h-1.4zM410.34 142.15h1.4v1.4h-1.4zM413.82 142.15h1.4v1.4h-1.4zM417.30 142.15h1.4v1.4h-1.4zM420.77 142.15h1.4v1.4h-1.4zM424.25 142.15h1.4v1.4h-1.4zM427.73 142.15h1.4v1.4h-1.4zM431.20 142.15h1.4v1.4h-1.4zM434.68 142.15h1.4v1.4h-1.4zM438.16 142.15h1.4v1.4h-1.4zM441.64 142.15h1.4v1.4h-1.4zM445.12 142.15h1.4v1.4h-1.4zM448.59 142.15h1.4v1.4h-1.4zM452.07 142.15h1.4v1.4h-1.4zM455.55 142.15h1.4v1.4h-1.4zM459.02 142.15h1.4v1.4h-1.4zM462.50 142.15h1.4v1.4h-1.4zM465.98 142.15h1.4v1.4h-1.4zM469.46 142.15h1.4v1.4h-1.4zM472.94 142.15h1.4v1.4h-1.4zM476.41 142.15h1.4v1.4h-1.4zM479.89 142.15h1.4v1.4h-1.4zM483.37 142.15h1.4v1.4h-1.4zM486.84 142.15h1.4v1.4h-1.4zM490.32 142.15h1.4v1.4h-1.4zM493.80 142.15h1.4v1.4h-1.4zM354.70 145.69h1.4v1.4h-1.4zM358.18 145.69h1.4v1.4h-1.4zM361.65 145.69h1.4v1.4h-1.4zM365.13 145.69h1.4v1.4h-1.4zM368.61 145.69h1.4v1.4h-1.4zM372.09 145.69h1.4v1.4h-1.4zM375.56 145.69h1.4v1.4h-1.4zM379.04 145.69h1.4v1.4h-1.4zM382.52 145.69h1.4v1.4h-1.4zM386.00 145.69h1.4v1.4h-1.4zM389.47 145.69h1.4v1.4h-1.4zM392.95 145.69h1.4v1.4h-1.4zM396.43 145.69h1.4v1.4h-1.4zM399.91 145.69h1.4v1.4h-1.4zM403.38 145.69h1.4v1.4h-1.4zM406.86 145.69h1.4v1.4h-1.4zM410.34 145.69h1.4v1.4h-1.4zM438.16 145.69h1.4v1.4h-1.4zM441.64 145.69h1.4v1.4h-1.4zM445.12 145.69h1.4v1.4h-1.4zM448.59 145.69h1.4v1.4h-1.4zM452.07 145.69h1.4v1.4h-1.4zM455.55 145.69h1.4v1.4h-1.4zM459.02 145.69h1.4v1.4h-1.4zM462.50 145.69h1.4v1.4h-1.4zM465.98 145.69h1.4v1.4h-1.4zM469.46 145.69h1.4v1.4h-1.4zM472.94 145.69h1.4v1.4h-1.4zM476.41 145.69h1.4v1.4h-1.4zM479.89 145.69h1.4v1.4h-1.4zM483.37 145.69h1.4v1.4h-1.4zM486.84 145.69h1.4v1.4h-1.4zM490.32 145.69h1.4v1.4h-1.4zM493.80 145.69h1.4v1.4h-1.4zM354.70 149.23h1.4v1.4h-1.4zM358.18 149.23h1.4v1.4h-1.4zM361.65 149.23h1.4v1.4h-1.4zM365.13 149.23h1.4v1.4h-1.4zM368.61 149.23h1.4v1.4h-1.4zM372.09 149.23h1.4v1.4h-1.4zM375.56 149.23h1.4v1.4h-1.4zM379.04 149.23h1.4v1.4h-1.4zM382.52 149.23h1.4v1.4h-1.4zM386.00 149.23h1.4v1.4h-1.4zM389.47 149.23h1.4v1.4h-1.4zM392.95 149.23h1.4v1.4h-1.4zM396.43 149.23h1.4v1.4h-1.4zM399.91 149.23h1.4v1.4h-1.4zM403.38 149.23h1.4v1.4h-1.4zM406.86 149.23h1.4v1.4h-1.4zM410.34 149.23h1.4v1.4h-1.4zM438.16 149.23h1.4v1.4h-1.4zM441.64 149.23h1.4v1.4h-1.4zM445.12 149.23h1.4v1.4h-1.4zM448.59 149.23h1.4v1.4h-1.4zM452.07 149.23h1.4v1.4h-1.4zM455.55 149.23h1.4v1.4h-1.4zM459.02 149.23h1.4v1.4h-1.4zM462.50 149.23h1.4v1.4h-1.4zM465.98 149.23h1.4v1.4h-1.4zM469.46 149.23h1.4v1.4h-1.4zM472.94 149.23h1.4v1.4h-1.4zM476.41 149.23h1.4v1.4h-1.4zM479.89 149.23h1.4v1.4h-1.4zM483.37 149.23h1.4v1.4h-1.4zM486.84 149.23h1.4v1.4h-1.4zM490.32 149.23h1.4v1.4h-1.4zM493.80 149.23h1.4v1.4h-1.4zM354.70 152.76h1.4v1.4h-1.4zM358.18 152.76h1.4v1.4h-1.4zM361.65 152.76h1.4v1.4h-1.4zM365.13 152.76h1.4v1.4h-1.4zM368.61 152.76h1.4v1.4h-1.4zM372.09 152.76h1.4v1.4h-1.4zM375.56 152.76h1.4v1.4h-1.4zM379.04 152.76h1.4v1.4h-1.4zM382.52 152.76h1.4v1.4h-1.4zM386.00 152.76h1.4v1.4h-1.4zM389.47 152.76h1.4v1.4h-1.4zM392.95 152.76h1.4v1.4h-1.4zM396.43 152.76h1.4v1.4h-1.4zM399.91 152.76h1.4v1.4h-1.4zM410.34 152.76h1.4v1.4h-1.4zM413.82 152.76h1.4v1.4h-1.4zM417.30 152.76h1.4v1.4h-1.4zM420.77 152.76h1.4v1.4h-1.4zM441.64 152.76h1.4v1.4h-1.4zM445.12 152.76h1.4v1.4h-1.4zM448.59 152.76h1.4v1.4h-1.4zM452.07 152.76h1.4v1.4h-1.4zM455.55 152.76h1.4v1.4h-1.4zM459.02 152.76h1.4v1.4h-1.4zM462.50 152.76h1.4v1.4h-1.4zM465.98 152.76h1.4v1.4h-1.4zM469.46 152.76h1.4v1.4h-1.4zM472.94 152.76h1.4v1.4h-1.4zM476.41 152.76h1.4v1.4h-1.4zM479.89 152.76h1.4v1.4h-1.4zM483.37 152.76h1.4v1.4h-1.4zM486.84 152.76h1.4v1.4h-1.4zM490.32 152.76h1.4v1.4h-1.4zM493.80 152.76h1.4v1.4h-1.4zM354.70 156.30h1.4v1.4h-1.4zM358.18 156.30h1.4v1.4h-1.4zM361.65 156.30h1.4v1.4h-1.4zM365.13 156.30h1.4v1.4h-1.4zM368.61 156.30h1.4v1.4h-1.4zM372.09 156.30h1.4v1.4h-1.4zM375.56 156.30h1.4v1.4h-1.4zM379.04 156.30h1.4v1.4h-1.4zM382.52 156.30h1.4v1.4h-1.4zM386.00 156.30h1.4v1.4h-1.4zM389.47 156.30h1.4v1.4h-1.4zM392.95 156.30h1.4v1.4h-1.4zM396.43 156.30h1.4v1.4h-1.4zM399.91 156.30h1.4v1.4h-1.4zM403.38 156.30h1.4v1.4h-1.4zM406.86 156.30h1.4v1.4h-1.4zM410.34 156.30h1.4v1.4h-1.4zM413.82 156.30h1.4v1.4h-1.4zM417.30 156.30h1.4v1.4h-1.4zM420.77 156.30h1.4v1.4h-1.4zM424.25 156.30h1.4v1.4h-1.4zM427.73 156.30h1.4v1.4h-1.4zM431.20 156.30h1.4v1.4h-1.4zM434.68 156.30h1.4v1.4h-1.4zM438.16 156.30h1.4v1.4h-1.4zM441.64 156.30h1.4v1.4h-1.4zM445.12 156.30h1.4v1.4h-1.4zM448.59 156.30h1.4v1.4h-1.4zM452.07 156.30h1.4v1.4h-1.4zM455.55 156.30h1.4v1.4h-1.4zM459.02 156.30h1.4v1.4h-1.4zM462.50 156.30h1.4v1.4h-1.4zM465.98 156.30h1.4v1.4h-1.4zM469.46 156.30h1.4v1.4h-1.4zM472.94 156.30h1.4v1.4h-1.4zM476.41 156.30h1.4v1.4h-1.4zM479.89 156.30h1.4v1.4h-1.4zM483.37 156.30h1.4v1.4h-1.4zM486.84 156.30h1.4v1.4h-1.4zM490.32 156.30h1.4v1.4h-1.4zM493.80 156.30h1.4v1.4h-1.4z" fill="#222" fill-opacity="0.72"/>
</g>
<rect x="355.5" y="15.5" width="139.0" height="142.0" fill="none" stroke="#969696" stroke-width="1"/>
<g font-family='"Liberation Sans", sans-serif' fill="#1a1a1a">
<text x="94.00" y="12.90" font-size="11.5" text-anchor="middle" font-weight="bold" fill="#000">WETC</text>
<line x1="22.7" y1="143.3" x2="24.5" y2="143.3" stroke="#444" stroke-width="0.7"/>
<text x="21.70" y="147.40" font-size="10.4" text-anchor="end">-4<tspan font-size="11.6" dy="0.2">°</tspan></text>
<line x1="38.4" y1="157.5" x2="38.4" y2="159.3" stroke="#444" stroke-width="0.7"/>
<text x="38.40" y="168.00" font-size="10.4" text-anchor="middle">-4<tspan font-size="11.6" dy="0.2">°</tspan></text>
<line x1="22.7" y1="114.9" x2="24.5" y2="114.9" stroke="#444" stroke-width="0.7"/>
<text x="21.70" y="119.00" font-size="10.4" text-anchor="end">-2<tspan font-size="11.6" dy="0.2">°</tspan></text>
<line x1="66.2" y1="157.5" x2="66.2" y2="159.3" stroke="#444" stroke-width="0.7"/>
<text x="66.20" y="168.00" font-size="10.4" text-anchor="middle">-2<tspan font-size="11.6" dy="0.2">°</tspan></text>
<line x1="22.7" y1="86.5" x2="24.5" y2="86.5" stroke="#444" stroke-width="0.7"/>
<text x="21.70" y="90.60" font-size="10.4" text-anchor="end">0<tspan font-size="11.6" dy="0.2">°</tspan></text>
<line x1="94.0" y1="157.5" x2="94.0" y2="159.3" stroke="#444" stroke-width="0.7"/>
<text x="94.00" y="168.00" font-size="10.4" text-anchor="middle">0<tspan font-size="11.6" dy="0.2">°</tspan></text>
<line x1="22.7" y1="58.1" x2="24.5" y2="58.1" stroke="#444" stroke-width="0.7"/>
<text x="21.70" y="62.20" font-size="10.4" text-anchor="end">+2<tspan font-size="11.6" dy="0.2">°</tspan></text>
<line x1="121.8" y1="157.5" x2="121.8" y2="159.3" stroke="#444" stroke-width="0.7"/>
<text x="121.80" y="168.00" font-size="10.4" text-anchor="middle">+2<tspan font-size="11.6" dy="0.2">°</tspan></text>
<line x1="22.7" y1="29.7" x2="24.5" y2="29.7" stroke="#444" stroke-width="0.7"/>
<text x="21.70" y="33.80" font-size="10.4" text-anchor="end">+4<tspan font-size="11.6" dy="0.2">°</tspan></text>
<line x1="149.6" y1="157.5" x2="149.6" y2="159.3" stroke="#444" stroke-width="0.7"/>
<text x="149.60" y="168.00" font-size="10.4" text-anchor="middle">+4<tspan font-size="11.6" dy="0.2">°</tspan></text>
<text x="259.00" y="12.90" font-size="11.5" text-anchor="middle" font-weight="bold" fill="#000">SETC</text>
<line x1="187.7" y1="143.3" x2="189.5" y2="143.3" stroke="#444" stroke-width="0.7"/>
<text x="186.70" y="147.40" font-size="10.4" text-anchor="end">-4<tspan font-size="11.6" dy="0.2">°</tspan></text>
<line x1="203.4" y1="157.5" x2="203.4" y2="159.3" stroke="#444" stroke-width="0.7"/>
<text x="203.40" y="168.00" font-size="10.4" text-anchor="middle">-4<tspan font-size="11.6" dy="0.2">°</tspan></text>
<line x1="187.7" y1="114.9" x2="189.5" y2="114.9" stroke="#444" stroke-width="0.7"/>
<text x="186.70" y="119.00" font-size="10.4" text-anchor="end">-2<tspan font-size="11.6" dy="0.2">°</tspan></text>
<line x1="231.2" y1="157.5" x2="231.2" y2="159.3" stroke="#444" stroke-width="0.7"/>
<text x="231.20" y="168.00" font-size="10.4" text-anchor="middle">-2<tspan font-size="11.6" dy="0.2">°</tspan></text>
<line x1="187.7" y1="86.5" x2="189.5" y2="86.5" stroke="#444" stroke-width="0.7"/>
<text x="186.70" y="90.60" font-size="10.4" text-anchor="end">0<tspan font-size="11.6" dy="0.2">°</tspan></text>
<line x1="259.0" y1="157.5" x2="259.0" y2="159.3" stroke="#444" stroke-width="0.7"/>
<text x="259.00" y="168.00" font-size="10.4" text-anchor="middle">0<tspan font-size="11.6" dy="0.2">°</tspan></text>
<line x1="187.7" y1="58.1" x2="189.5" y2="58.1" stroke="#444" stroke-width="0.7"/>
<text x="186.70" y="62.20" font-size="10.4" text-anchor="end">+2<tspan font-size="11.6" dy="0.2">°</tspan></text>
<line x1="286.8" y1="157.5" x2="286.8" y2="159.3" stroke="#444" stroke-width="0.7"/>
<text x="286.80" y="168.00" font-size="10.4" text-anchor="middle">+2<tspan font-size="11.6" dy="0.2">°</tspan></text>
<line x1="187.7" y1="29.7" x2="189.5" y2="29.7" stroke="#444" stroke-width="0.7"/>
<text x="186.70" y="33.80" font-size="10.4" text-anchor="end">+4<tspan font-size="11.6" dy="0.2">°</tspan></text>
<line x1="314.6" y1="157.5" x2="314.6" y2="159.3" stroke="#444" stroke-width="0.7"/>
<text x="314.60" y="168.00" font-size="10.4" text-anchor="middle">+4<tspan font-size="11.6" dy="0.2">°</tspan></text>
<text x="425.00" y="12.90" font-size="11.5" text-anchor="middle" font-weight="bold" fill="#000">DWCC</text>
<line x1="353.7" y1="143.3" x2="355.5" y2="143.3" stroke="#444" stroke-width="0.7"/>
<text x="352.70" y="147.40" font-size="10.4" text-anchor="end">-4<tspan font-size="11.6" dy="0.2">°</tspan></text>
<line x1="369.4" y1="157.5" x2="369.4" y2="159.3" stroke="#444" stroke-width="0.7"/>
<text x="369.40" y="168.00" font-size="10.4" text-anchor="middle">-4<tspan font-size="11.6" dy="0.2">°</tspan></text>
<line x1="353.7" y1="114.9" x2="355.5" y2="114.9" stroke="#444" stroke-width="0.7"/>
<text x="352.70" y="119.00" font-size="10.4" text-anchor="end">-2<tspan font-size="11.6" dy="0.2">°</tspan></text>
<line x1="397.2" y1="157.5" x2="397.2" y2="159.3" stroke="#444" stroke-width="0.7"/>
<text x="397.20" y="168.00" font-size="10.4" text-anchor="middle">-2<tspan font-size="11.6" dy="0.2">°</tspan></text>
<line x1="353.7" y1="86.5" x2="355.5" y2="86.5" stroke="#444" stroke-width="0.7"/>
<text x="352.70" y="90.60" font-size="10.4" text-anchor="end">0<tspan font-size="11.6" dy="0.2">°</tspan></text>
<line x1="425.0" y1="157.5" x2="425.0" y2="159.3" stroke="#444" stroke-width="0.7"/>
<text x="425.00" y="168.00" font-size="10.4" text-anchor="middle">0<tspan font-size="11.6" dy="0.2">°</tspan></text>
<line x1="353.7" y1="58.1" x2="355.5" y2="58.1" stroke="#444" stroke-width="0.7"/>
<text x="352.70" y="62.20" font-size="10.4" text-anchor="end">+2<tspan font-size="11.6" dy="0.2">°</tspan></text>
<line x1="452.8" y1="157.5" x2="452.8" y2="159.3" stroke="#444" stroke-width="0.7"/>
<text x="452.80" y="168.00" font-size="10.4" text-anchor="middle">+2<tspan font-size="11.6" dy="0.2">°</tspan></text>
<line x1="353.7" y1="29.7" x2="355.5" y2="29.7" stroke="#444" stroke-width="0.7"/>
<text x="352.70" y="33.80" font-size="10.4" text-anchor="end">+4<tspan font-size="11.6" dy="0.2">°</tspan></text>
<line x1="480.6" y1="157.5" x2="480.6" y2="159.3" stroke="#444" stroke-width="0.7"/>
<text x="480.60" y="168.00" font-size="10.4" text-anchor="middle">+4<tspan font-size="11.6" dy="0.2">°</tspan></text>
</g>
<rect x="141.5" y="179.5" width="45.3" height="11.8" fill="#edf8c4"/>
<rect x="186.5" y="179.5" width="45.3" height="11.8" fill="#9cefb1"/>
<rect x="231.5" y="179.5" width="45.3" height="11.8" fill="#3594b3"/>
<rect x="276.5" y="179.5" width="45.3" height="11.8" fill="#0b4f8c"/>
<rect x="321.5" y="179.5" width="45.3" height="11.8" fill="#2e0a45"/>
<polygon points="366.5,179.5 377.8,185.4 366.5,191.3" fill="#6b2d5e"/>
<polyline points="366.5,179.5 141.5,179.5 141.5,191.3 366.5,191.3" fill="none" stroke="#aaa" stroke-width="0.6"/>
<g font-family='"Liberation Sans", sans-serif' fill="#1a1a1a">
<line x1="141.5" y1="191.3" x2="141.5" y2="193.10000000000002" stroke="#666" stroke-width="0.6"/>
<text x="141.50" y="200.30" font-size="9" text-anchor="middle">0.00</text>
<line x1="186.5" y1="191.3" x2="186.5" y2="193.10000000000002" stroke="#666" stroke-width="0.6"/>
<text x="186.50" y="200.30" font-size="9" text-anchor="middle">0.24</text>
<line x1="231.5" y1="191.3" x2="231.5" y2="193.10000000000002" stroke="#666" stroke-width="0.6"/>
<text x="231.50" y="200.30" font-size="9" text-anchor="middle">0.48</text>
<line x1="276.5" y1="191.3" x2="276.5" y2="193.10000000000002" stroke="#666" stroke-width="0.6"/>
<text x="276.50" y="200.30" font-size="9" text-anchor="middle">0.72</text>
<line x1="321.5" y1="191.3" x2="321.5" y2="193.10000000000002" stroke="#666" stroke-width="0.6"/>
<text x="321.50" y="200.30" font-size="9" text-anchor="middle">0.96</text>
<line x1="366.5" y1="191.3" x2="366.5" y2="193.10000000000002" stroke="#666" stroke-width="0.6"/>
<text x="366.50" y="200.30" font-size="9" text-anchor="middle">1.20</text>
<text x="253.20" y="210.30" font-size="10" text-anchor="middle">mm h<tspan font-size="6.2" dx="0.9" dy="-4.3">−1</tspan></text>
<line x1="24.5" y1="312.5" x2="494.5" y2="312.5" stroke="#d8d8d8" stroke-width="0.5" stroke-dasharray="1.8,1.2"/>
<line x1="22.7" y1="312.5" x2="24.5" y2="312.5" stroke="#777" stroke-width="0.6"/>
<text x="21.30" y="315.90" font-size="9.6" text-anchor="end">0</text>
<line x1="24.5" y1="278.4" x2="494.5" y2="278.4" stroke="#d8d8d8" stroke-width="0.5" stroke-dasharray="1.8,1.2"/>
<line x1="22.7" y1="278.4" x2="24.5" y2="278.4" stroke="#777" stroke-width="0.6"/>
<text x="21.30" y="281.80" font-size="9.6" text-anchor="end">2</text>
<line x1="24.5" y1="244.3" x2="494.5" y2="244.3" stroke="#d8d8d8" stroke-width="0.5" stroke-dasharray="1.8,1.2"/>
<line x1="22.7" y1="244.3" x2="24.5" y2="244.3" stroke="#777" stroke-width="0.6"/>
<text x="21.30" y="247.70" font-size="9.6" text-anchor="end">4</text>
<rect x="24.5" y="215.5" width="470.0" height="102.0" fill="none" stroke="#bdbdbd" stroke-width="1"/>
<text transform="translate(14.3,267.5) rotate(-90)" font-size="10" text-anchor="middle">mm h<tspan font-size="6.2" dx="0.9" dy="-4.3">−1</tspan></text>
<line x1="102.5" y1="258.8" x2="102.5" y2="278.7" stroke="#333" stroke-width="0.9"/>
<line x1="102.5" y1="304.4" x2="102.5" y2="312.5" stroke="#333" stroke-width="0.9"/>
<line x1="90.8" y1="258.8" x2="114.2" y2="258.8" stroke="#666" stroke-width="0.8"/>
<line x1="90.8" y1="312.5" x2="114.2" y2="312.5" stroke="#666" stroke-width="0.8"/>
<rect x="79" y="278.7" width="46.8" height="25.7" fill="#629fca" stroke="#557fa3" stroke-width="0.6"/>
<line x1="79" y1="291.3" x2="125.8" y2="291.3" stroke="#000" stroke-opacity="0.62" stroke-width="1.3"/>
<rect x="101.8" y="219.3" width="1.4" height="1.4" fill="#333"/>
<rect x="101.8" y="224.20000000000002" width="1.4" height="1.4" fill="#333"/>
<rect x="101.8" y="229.20000000000002" width="1.4" height="1.4" fill="#333"/>
<rect x="101.8" y="233.8" width="1.4" height="1.4" fill="#444"/>
<rect x="101.8" y="236.70000000000002" width="1.4" height="1.4" fill="#444"/>
<rect x="101.75" y="244" width="1.5" height="14" fill="#222"/>
<line x1="102.5" y1="317.5" x2="102.5" y2="319.3" stroke="#999" stroke-width="0.6"/>
<text x="102.50" y="326.80" font-size="9.2" text-anchor="middle">WETC</text>
<line x1="258.9" y1="252.3" x2="258.9" y2="269" stroke="#999" stroke-width="0.9"/>
<line x1="258.9" y1="290.4" x2="258.9" y2="307.5" stroke="#999" stroke-width="0.9"/>
<line x1="247.2" y1="252.3" x2="270.59999999999997" y2="252.3" stroke="#444" stroke-width="0.8"/>
<line x1="247.2" y1="307.5" x2="270.59999999999997" y2="307.5" stroke="#444" stroke-width="0.8"/>
<rect x="236" y="269" width="46.8" height="21.4" fill="#4848fc" stroke="#4040c8" stroke-width="0.6"/>
<line x1="236" y1="279.8" x2="282.8" y2="279.8" stroke="#000" stroke-opacity="0.62" stroke-width="1.3"/>
<rect x="258.2" y="238.10000000000002" width="1.4" height="1.4" fill="#777"/>
<rect x="258.2" y="246.10000000000002" width="1.4" height="1.4" fill="#222"/>
<rect x="258.2" y="248.9" width="1.4" height="1.4" fill="#222"/>
<rect x="258.2" y="249.9" width="1.4" height="1.4" fill="#222"/>
<rect x="258.2" y="309.1" width="1.4" height="1.4" fill="#333"/>
<rect x="258.2" y="311.8" width="1.4" height="1.4" fill="#111"/>
<line x1="258.9" y1="317.5" x2="258.9" y2="319.3" stroke="#999" stroke-width="0.6"/>
<text x="258.90" y="326.80" font-size="9.2" text-anchor="middle">SETC</text>
<line x1="415.9" y1="244.9" x2="415.9" y2="262.5" stroke="#aaa" stroke-width="0.9"/>
<line x1="415.9" y1="286.1" x2="415.9" y2="297.4" stroke="#aaa" stroke-width="0.9"/>
<line x1="404.2" y1="244.9" x2="427.59999999999997" y2="244.9" stroke="#505050" stroke-width="0.8"/>
<line x1="404.2" y1="297.4" x2="427.59999999999997" y2="297.4" stroke="#505050" stroke-width="0.8"/>
<rect x="392.8" y="262.5" width="47.0" height="23.6" fill="#e0676a" stroke="#b85a5c" stroke-width="0.6"/>
<line x1="392.8" y1="271.9" x2="439.8" y2="271.9" stroke="#000" stroke-opacity="0.62" stroke-width="1.3"/>
<rect x="415.2" y="225.0" width="1.4" height="1.4" fill="#666"/>
<rect x="415.2" y="230.10000000000002" width="1.4" height="1.4" fill="#444"/>
<rect x="415.2" y="234.3" width="1.4" height="1.4" fill="#777"/>
<rect x="415.2" y="237.3" width="1.4" height="1.4" fill="#777"/>
<rect x="415.2" y="240.4" width="1.4" height="1.4" fill="#777"/>
<rect x="415.2" y="241.3" width="1.4" height="1.4" fill="#888"/>
<rect x="415.2" y="298.3" width="1.4" height="1.4" fill="#444"/>
<rect x="415.2" y="299.8" width="1.4" height="1.4" fill="#444"/>
<rect x="415.2" y="301.3" width="1.4" height="1.4" fill="#555"/>
<rect x="415.2" y="304.90000000000003" width="1.4" height="1.4" fill="#888"/>
<rect x="415.2" y="312.0" width="1.4" height="1.4" fill="#333"/>
<line x1="415.9" y1="317.5" x2="415.9" y2="319.3" stroke="#999" stroke-width="0.6"/>
<text x="415.90" y="326.80" font-size="9.2" text-anchor="middle">DWCC</text>
</g>
</svg></body></html>
